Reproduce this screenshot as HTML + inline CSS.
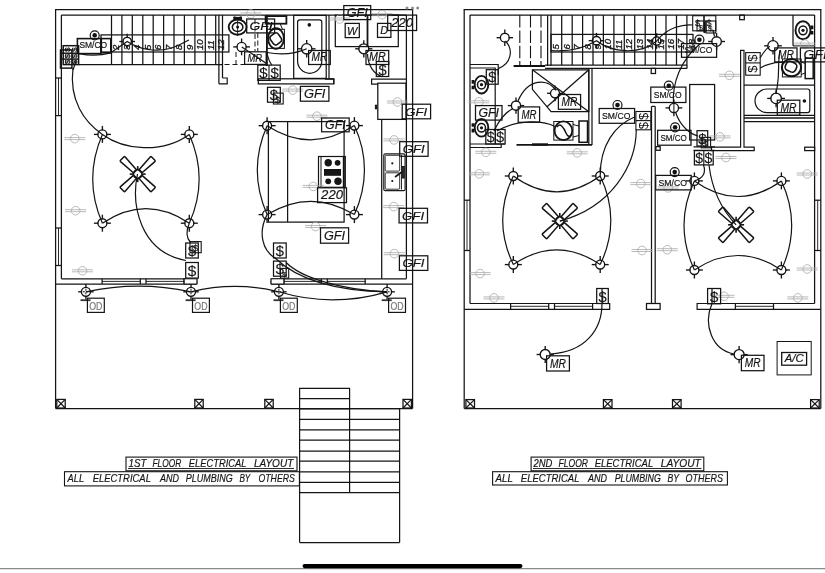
<!DOCTYPE html>
<html><head><meta charset="utf-8"><title>Electrical layout</title>
<style>
html,body{margin:0;padding:0;background:#fff;}
body{width:825px;height:573px;overflow:hidden;font-family:"Liberation Sans",sans-serif;}
svg{display:block;filter:blur(0.35px);}
svg text{font-family:"Liberation Sans",sans-serif;}
</style></head><body>
<svg width="825" height="573" viewBox="0 0 825 573" stroke-linecap="butt">
<rect x="0" y="0" width="825" height="573" fill="#fff"/>
<line x1="55.6" y1="9.5" x2="55.6" y2="408.6" stroke="#141414" stroke-width="1.25" />
<line x1="412.6" y1="9.5" x2="412.6" y2="408.6" stroke="#141414" stroke-width="1.25" />
<line x1="55.1" y1="9.5" x2="413.1" y2="9.5" stroke="#141414" stroke-width="1.25" />
<line x1="55.6" y1="408.6" x2="412.6" y2="408.6" stroke="#141414" stroke-width="1.25" />
<line x1="61.4" y1="15.1" x2="61.4" y2="278.8" stroke="#141414" stroke-width="1.25" />
<line x1="61.4" y1="15.1" x2="406.4" y2="15.1" stroke="#141414" stroke-width="1.25" />
<line x1="406.4" y1="15.1" x2="406.4" y2="278.8" stroke="#141414" stroke-width="1.25" />
<line x1="55.6" y1="284" x2="196.9" y2="284" stroke="#141414" stroke-width="1.25" />
<line x1="271.1" y1="284" x2="412.6" y2="284" stroke="#141414" stroke-width="1.25" />
<line x1="61.4" y1="278.8" x2="196.9" y2="278.8" stroke="#141414" stroke-width="1.25" />
<line x1="271.1" y1="278.8" x2="406.4" y2="278.8" stroke="#141414" stroke-width="1.25" />
<line x1="196.9" y1="278.8" x2="196.9" y2="284" stroke="#141414" stroke-width="1.25" />
<line x1="271.1" y1="278.8" x2="271.1" y2="284" stroke="#141414" stroke-width="1.25" />
<line x1="184.2" y1="278.8" x2="184.2" y2="284" stroke="#141414" stroke-width="1.25" />
<line x1="283.8" y1="278.8" x2="283.8" y2="284" stroke="#141414" stroke-width="1.25" />
<line x1="102.1" y1="278.8" x2="102.1" y2="284" stroke="#141414" stroke-width="1.25" />
<line x1="184.2" y1="278.8" x2="184.2" y2="284" stroke="#141414" stroke-width="1.25" />
<line x1="102.1" y1="281.4" x2="140.3" y2="281.4" stroke="#141414" stroke-width="0.9" />
<line x1="146" y1="281.4" x2="184.2" y2="281.4" stroke="#141414" stroke-width="0.9" />
<line x1="140.3" y1="278.8" x2="140.3" y2="284" stroke="#141414" stroke-width="1.25" />
<line x1="146" y1="278.8" x2="146" y2="284" stroke="#141414" stroke-width="1.25" />
<line x1="283.8" y1="278.8" x2="283.8" y2="284" stroke="#141414" stroke-width="1.25" />
<line x1="365.2" y1="278.8" x2="365.2" y2="284" stroke="#141414" stroke-width="1.25" />
<line x1="283.8" y1="281.4" x2="321.3" y2="281.4" stroke="#141414" stroke-width="0.9" />
<line x1="327.3" y1="281.4" x2="365.2" y2="281.4" stroke="#141414" stroke-width="0.9" />
<line x1="321.3" y1="278.8" x2="321.3" y2="284" stroke="#141414" stroke-width="1.25" />
<line x1="327.3" y1="278.8" x2="327.3" y2="284" stroke="#141414" stroke-width="1.25" />
<line x1="55.6" y1="78" x2="61.4" y2="78" stroke="#141414" stroke-width="1.25" />
<line x1="55.6" y1="115.6" x2="61.4" y2="115.6" stroke="#141414" stroke-width="1.25" />
<line x1="58.5" y1="78" x2="58.5" y2="115.6" stroke="#141414" stroke-width="0.9" />
<line x1="55.6" y1="228" x2="61.4" y2="228" stroke="#141414" stroke-width="1.25" />
<line x1="55.6" y1="265.5" x2="61.4" y2="265.5" stroke="#141414" stroke-width="1.25" />
<line x1="58.5" y1="228" x2="58.5" y2="265.5" stroke="#141414" stroke-width="0.9" />
<line x1="111.5" y1="15.1" x2="111.5" y2="64.5" stroke="#141414" stroke-width="1.25" />
<line x1="121.9" y1="15.1" x2="121.9" y2="64.5" stroke="#141414" stroke-width="1.25" />
<line x1="132.3" y1="15.1" x2="132.3" y2="64.5" stroke="#141414" stroke-width="1.25" />
<line x1="142.8" y1="15.1" x2="142.8" y2="64.5" stroke="#141414" stroke-width="1.25" />
<line x1="153.2" y1="15.1" x2="153.2" y2="64.5" stroke="#141414" stroke-width="1.25" />
<line x1="163.6" y1="15.1" x2="163.6" y2="64.5" stroke="#141414" stroke-width="1.25" />
<line x1="174.0" y1="15.1" x2="174.0" y2="64.5" stroke="#141414" stroke-width="1.25" />
<line x1="184.4" y1="15.1" x2="184.4" y2="64.5" stroke="#141414" stroke-width="1.25" />
<line x1="194.9" y1="15.1" x2="194.9" y2="64.5" stroke="#141414" stroke-width="1.25" />
<line x1="205.3" y1="15.1" x2="205.3" y2="64.5" stroke="#141414" stroke-width="1.25" />
<line x1="215.7" y1="15.1" x2="215.7" y2="64.5" stroke="#141414" stroke-width="1.25" />
<line x1="79" y1="64.5" x2="222.5" y2="64.5" stroke="#141414" stroke-width="1.25" />
<rect x="101" y="34.9" width="127.9" height="17.1" stroke="#141414" stroke-width="1.25" fill="none" />
<line x1="218.9" y1="15.1" x2="218.9" y2="83.8" stroke="#141414" stroke-width="1.25" />
<line x1="222.5" y1="15.1" x2="222.5" y2="78" stroke="#141414" stroke-width="1.25" />
<path d="M222.5 78 H227.2 V83.8 H218.9" stroke="#141414" stroke-width="1.2" fill="none" />
<line x1="224.5" y1="64.5" x2="258" y2="64.5" stroke="#141414" stroke-width="1" stroke-dasharray="5 3"/>
<line x1="236" y1="52" x2="236" y2="64.5" stroke="#141414" stroke-width="1" stroke-dasharray="5 3"/>
<text x="119.3" y="50" font-size="9.6" font-style="italic" fill="#141414" stroke="#141414" stroke-width="0.3" text-anchor="start" transform="rotate(-90 119.3 50)">2</text>
<text x="129.8" y="50" font-size="9.6" font-style="italic" fill="#141414" stroke="#141414" stroke-width="0.3" text-anchor="start" transform="rotate(-90 129.8 50)">3</text>
<text x="140.3" y="50" font-size="9.6" font-style="italic" fill="#141414" stroke="#141414" stroke-width="0.3" text-anchor="start" transform="rotate(-90 140.3 50)">4</text>
<text x="150.8" y="50" font-size="9.6" font-style="italic" fill="#141414" stroke="#141414" stroke-width="0.3" text-anchor="start" transform="rotate(-90 150.8 50)">5</text>
<text x="161.3" y="50" font-size="9.6" font-style="italic" fill="#141414" stroke="#141414" stroke-width="0.3" text-anchor="start" transform="rotate(-90 161.3 50)">6</text>
<text x="171.8" y="50" font-size="9.6" font-style="italic" fill="#141414" stroke="#141414" stroke-width="0.3" text-anchor="start" transform="rotate(-90 171.8 50)">7</text>
<text x="182.3" y="50" font-size="9.6" font-style="italic" fill="#141414" stroke="#141414" stroke-width="0.3" text-anchor="start" transform="rotate(-90 182.3 50)">8</text>
<text x="192.8" y="50" font-size="9.6" font-style="italic" fill="#141414" stroke="#141414" stroke-width="0.3" text-anchor="start" transform="rotate(-90 192.8 50)">9</text>
<text x="203.3" y="50" font-size="9.6" font-style="italic" fill="#141414" stroke="#141414" stroke-width="0.3" text-anchor="start" transform="rotate(-90 203.3 50)">10</text>
<text x="213.8" y="50" font-size="9.6" font-style="italic" fill="#141414" stroke="#141414" stroke-width="0.3" text-anchor="start" transform="rotate(-90 213.8 50)">11</text>
<text x="224.3" y="50" font-size="9.6" font-style="italic" fill="#141414" stroke="#141414" stroke-width="0.3" text-anchor="start" transform="rotate(-90 224.3 50)">12</text>
<rect x="56.8" y="399.4" width="8.4" height="8.6" stroke="#141414" stroke-width="1.25" fill="none" />
<line x1="56.8" y1="399.4" x2="65.2" y2="408" stroke="#141414" stroke-width="1.15" />
<line x1="56.8" y1="408" x2="65.2" y2="399.4" stroke="#141414" stroke-width="1.15" />
<rect x="194.8" y="399.4" width="8.4" height="8.6" stroke="#141414" stroke-width="1.25" fill="none" />
<line x1="194.8" y1="399.4" x2="203.20000000000002" y2="408" stroke="#141414" stroke-width="1.15" />
<line x1="194.8" y1="408" x2="203.20000000000002" y2="399.4" stroke="#141414" stroke-width="1.15" />
<rect x="264.8" y="399.4" width="8.4" height="8.6" stroke="#141414" stroke-width="1.25" fill="none" />
<line x1="264.8" y1="399.4" x2="273.2" y2="408" stroke="#141414" stroke-width="1.15" />
<line x1="264.8" y1="408" x2="273.2" y2="399.4" stroke="#141414" stroke-width="1.15" />
<rect x="403" y="399.4" width="8.4" height="8.6" stroke="#141414" stroke-width="1.25" fill="none" />
<line x1="403" y1="399.4" x2="411.4" y2="408" stroke="#141414" stroke-width="1.15" />
<line x1="403" y1="408" x2="411.4" y2="399.4" stroke="#141414" stroke-width="1.15" />
<path d="M299.6 542.5 V388.4 H349.6 V492.7" stroke="#141414" stroke-width="1.2" fill="none" />
<line x1="349.8" y1="408.6" x2="399.6" y2="408.6" stroke="#141414" stroke-width="1.25" />
<line x1="399.6" y1="408.6" x2="399.6" y2="542.5" stroke="#141414" stroke-width="1.25" />
<line x1="299.6" y1="542.5" x2="399.6" y2="542.5" stroke="#141414" stroke-width="1.25" />
<line x1="299.6" y1="398.7" x2="349.8" y2="398.7" stroke="#141414" stroke-width="1.25" />
<line x1="349.8" y1="419.4" x2="399.6" y2="419.4" stroke="#141414" stroke-width="1.25" />
<line x1="349.8" y1="429.8" x2="399.6" y2="429.8" stroke="#141414" stroke-width="1.25" />
<line x1="349.8" y1="440.2" x2="399.6" y2="440.2" stroke="#141414" stroke-width="1.25" />
<line x1="349.8" y1="451" x2="399.6" y2="451" stroke="#141414" stroke-width="1.25" />
<line x1="349.8" y1="461.2" x2="399.6" y2="461.2" stroke="#141414" stroke-width="1.25" />
<line x1="349.8" y1="471.9" x2="399.6" y2="471.9" stroke="#141414" stroke-width="1.25" />
<line x1="349.8" y1="482.3" x2="399.6" y2="482.3" stroke="#141414" stroke-width="1.25" />
<line x1="349.8" y1="492.7" x2="399.6" y2="492.7" stroke="#141414" stroke-width="1.25" />
<line x1="299.6" y1="408.8" x2="349.8" y2="408.8" stroke="#141414" stroke-width="1.25" />
<line x1="299.6" y1="419.4" x2="349.8" y2="419.4" stroke="#141414" stroke-width="1.25" />
<line x1="299.6" y1="429.8" x2="349.8" y2="429.8" stroke="#141414" stroke-width="1.25" />
<line x1="299.6" y1="440.2" x2="349.8" y2="440.2" stroke="#141414" stroke-width="1.25" />
<line x1="299.6" y1="451" x2="349.8" y2="451" stroke="#141414" stroke-width="1.25" />
<line x1="299.6" y1="461.2" x2="349.8" y2="461.2" stroke="#141414" stroke-width="1.25" />
<line x1="299.6" y1="471.9" x2="349.8" y2="471.9" stroke="#141414" stroke-width="1.25" />
<line x1="299.6" y1="482.3" x2="349.8" y2="482.3" stroke="#141414" stroke-width="1.25" />
<line x1="299.6" y1="492.7" x2="349.8" y2="492.7" stroke="#141414" stroke-width="1.25" />
<line x1="266.9" y1="15.1" x2="266.9" y2="66" stroke="#141414" stroke-width="1.8" />
<rect x="258.3" y="78.8" width="75.5" height="5.1" stroke="#141414" stroke-width="1.25" fill="none" />
<rect x="293.7" y="15.4" width="32.5" height="63.0" stroke="#141414" stroke-width="1.25" fill="none" />
<line x1="329" y1="15.1" x2="329" y2="78.8" stroke="#141414" stroke-width="1.25" />
<path d="M297.6 22 Q297.6 19.8 300 19.8 H319.4 Q321.8 19.8 321.8 22 V61 A12.1 12.3 0 0 1 297.6 61 Z" stroke="#141414" stroke-width="1.2" fill="none" />
<circle cx="309.3" cy="24.9" r="1.8" stroke="#141414" stroke-width="0" fill="#111"/>
<ellipse cx="237.6" cy="27.1" rx="8.9" ry="7.6" stroke="#141414" stroke-width="1.9" fill="none" />
<ellipse cx="237.6" cy="27.1" rx="5.3" ry="4.5" stroke="#141414" stroke-width="1.5" fill="none" />
<circle cx="237.6" cy="27.1" r="1.5" stroke="#141414" stroke-width="0" fill="#111"/>
<line x1="237.6" y1="19" x2="237.6" y2="36" stroke="#141414" stroke-width="0.9" />
<path d="M233.4 18.3 h8.6" stroke="#111" stroke-width="2.8" fill="none" />
<path d="M234.6 16.6 v2 M240.8 16.6 v2" stroke="#111" stroke-width="2" fill="none" />
<rect x="265.6" y="16.1" width="20.8" height="7.6" stroke="#141414" stroke-width="1.8" fill="none" />
<rect x="266.8" y="29.3" width="17.6" height="19.1" stroke="#141414" stroke-width="1" fill="none" />
<ellipse cx="276" cy="38.5" rx="7.9" ry="10.3" stroke="#141414" stroke-width="1.9" fill="none" />
<rect x="271" y="33.6" width="9.6" height="10.6" rx="3" stroke="#141414" stroke-width="1.5" fill="none" transform="rotate(-35 275.8 38.9)"/>
<path d="M272 23.4 L270 29.3 M280 23.4 L282.5 29.3" stroke="#141414" stroke-width="1" fill="none" />
<rect x="335.3" y="15.1" width="63.0" height="31.5" stroke="#141414" stroke-width="1.25" fill="none" />
<line x1="367.5" y1="15.1" x2="367.5" y2="46.6" stroke="#141414" stroke-width="1.8" />
<path d="M325 79.1 H333.8 V83.9" stroke="#141414" stroke-width="1.2" fill="none" />
<path d="M406.4 79.1 H371.6 V84.2 H377.8" stroke="#141414" stroke-width="1.2" fill="none" />
<rect x="377.8" y="83.2" width="28.2" height="36.2" stroke="#141414" stroke-width="1.25" fill="none" />
<rect x="375.4" y="105.2" width="1.2" height="3.6" stroke="#141414" stroke-width="1" fill="#111" />
<line x1="381.7" y1="119.4" x2="381.7" y2="278.8" stroke="#141414" stroke-width="1.25" />
<rect x="268.4" y="121.6" width="75.7" height="100.5" stroke="#141414" stroke-width="1.25" fill="none" />
<line x1="287.6" y1="121.6" x2="287.6" y2="222.1" stroke="#141414" stroke-width="1.25" />
<rect x="318.5" y="156.5" width="26.8" height="30.8" stroke="#141414" stroke-width="1.2" fill="none" />
<line x1="321" y1="157" x2="321" y2="187" stroke="#141414" stroke-width="1" />
<line x1="343.6" y1="157" x2="343.6" y2="187" stroke="#141414" stroke-width="1.6" />
<circle cx="328.2" cy="162.8" r="3.7" stroke="#141414" stroke-width="0" fill="#151515"/>
<circle cx="337.6" cy="162.8" r="2.9" stroke="#141414" stroke-width="0" fill="#151515"/>
<circle cx="328.2" cy="181.3" r="2.9" stroke="#141414" stroke-width="0" fill="#151515"/>
<circle cx="338" cy="181.3" r="3.7" stroke="#141414" stroke-width="0" fill="#151515"/>
<rect x="324" y="169" width="17" height="6.8" stroke="#141414" stroke-width="0" fill="#151515" />
<rect x="383.8" y="153.9" width="21.3" height="36.8" rx="1.5" stroke="#1c1c1c" stroke-width="1.2" fill="#fff"/>
<rect x="385.2" y="155.3" width="14.5" height="15.8" rx="1" stroke="#1c1c1c" stroke-width="0.9" fill="none"/>
<rect x="385.2" y="172.8" width="14.5" height="16.4" rx="1" stroke="#1c1c1c" stroke-width="0.9" fill="none"/>
<circle cx="392.3" cy="163.3" r="1.1" stroke="#141414" stroke-width="0" fill="#111"/>
<circle cx="392.3" cy="181" r="1.1" stroke="#141414" stroke-width="0" fill="#111"/>
<line x1="401.5" y1="155" x2="401.5" y2="189.5" stroke="#141414" stroke-width="0.9" />
<rect x="402.3" y="166.5" width="2.0" height="11.5" stroke="#141414" stroke-width="1" fill="#333" />
<line x1="395" y1="177" x2="402.5" y2="171.5" stroke="#141414" stroke-width="1.6" />
<circle cx="82.5" cy="270.8" r="4.3" stroke="#a8a8a8" stroke-width="0.8" fill="none"/>
<line x1="72.0" y1="269.8" x2="93.0" y2="269.8" stroke="#a8a8a8" stroke-width="0.8" />
<line x1="72.0" y1="271.8" x2="93.0" y2="271.8" stroke="#a8a8a8" stroke-width="0.8" />
<circle cx="74.8" cy="138.6" r="4.3" stroke="#a8a8a8" stroke-width="0.8" fill="none"/>
<line x1="64.3" y1="137.6" x2="85.3" y2="137.6" stroke="#a8a8a8" stroke-width="0.8" />
<line x1="64.3" y1="139.6" x2="85.3" y2="139.6" stroke="#a8a8a8" stroke-width="0.8" />
<circle cx="75.6" cy="210.7" r="4.3" stroke="#a8a8a8" stroke-width="0.8" fill="none"/>
<line x1="65.1" y1="209.7" x2="86.1" y2="209.7" stroke="#a8a8a8" stroke-width="0.8" />
<line x1="65.1" y1="211.7" x2="86.1" y2="211.7" stroke="#a8a8a8" stroke-width="0.8" />
<circle cx="250.8" cy="13.9" r="4.3" stroke="#a8a8a8" stroke-width="0.8" fill="none"/>
<line x1="240.3" y1="12.9" x2="261.3" y2="12.9" stroke="#a8a8a8" stroke-width="0.8" />
<line x1="240.3" y1="14.9" x2="261.3" y2="14.9" stroke="#a8a8a8" stroke-width="0.8" />
<circle cx="339.7" cy="19" r="4.3" stroke="#a8a8a8" stroke-width="0.8" fill="none"/>
<line x1="329.2" y1="18" x2="350.2" y2="18" stroke="#a8a8a8" stroke-width="0.8" />
<line x1="329.2" y1="20" x2="350.2" y2="20" stroke="#a8a8a8" stroke-width="0.8" />
<circle cx="382.1" cy="14.7" r="4.3" stroke="#a8a8a8" stroke-width="0.8" fill="none"/>
<line x1="371.6" y1="13.7" x2="392.6" y2="13.7" stroke="#a8a8a8" stroke-width="0.8" />
<line x1="371.6" y1="15.7" x2="392.6" y2="15.7" stroke="#a8a8a8" stroke-width="0.8" />
<circle cx="292.7" cy="90.1" r="4.3" stroke="#a8a8a8" stroke-width="0.8" fill="none"/>
<line x1="282.2" y1="89.1" x2="303.2" y2="89.1" stroke="#a8a8a8" stroke-width="0.8" />
<line x1="282.2" y1="91.1" x2="303.2" y2="91.1" stroke="#a8a8a8" stroke-width="0.8" />
<circle cx="316.9" cy="116.2" r="4.3" stroke="#a8a8a8" stroke-width="0.8" fill="none"/>
<line x1="306.4" y1="115.2" x2="327.4" y2="115.2" stroke="#a8a8a8" stroke-width="0.8" />
<line x1="306.4" y1="117.2" x2="327.4" y2="117.2" stroke="#a8a8a8" stroke-width="0.8" />
<circle cx="313.3" cy="186.4" r="4.3" stroke="#a8a8a8" stroke-width="0.8" fill="none"/>
<line x1="302.8" y1="185.4" x2="323.8" y2="185.4" stroke="#a8a8a8" stroke-width="0.8" />
<line x1="302.8" y1="187.4" x2="323.8" y2="187.4" stroke="#a8a8a8" stroke-width="0.8" />
<circle cx="315.6" cy="226.5" r="4.3" stroke="#a8a8a8" stroke-width="0.8" fill="none"/>
<line x1="305.1" y1="225.5" x2="326.1" y2="225.5" stroke="#a8a8a8" stroke-width="0.8" />
<line x1="305.1" y1="227.5" x2="326.1" y2="227.5" stroke="#a8a8a8" stroke-width="0.8" />
<circle cx="397.4" cy="102" r="4.3" stroke="#a8a8a8" stroke-width="0.8" fill="none"/>
<line x1="386.9" y1="101" x2="407.9" y2="101" stroke="#a8a8a8" stroke-width="0.8" />
<line x1="386.9" y1="103" x2="407.9" y2="103" stroke="#a8a8a8" stroke-width="0.8" />
<circle cx="394" cy="139.9" r="4.3" stroke="#a8a8a8" stroke-width="0.8" fill="none"/>
<line x1="383.5" y1="138.9" x2="404.5" y2="138.9" stroke="#a8a8a8" stroke-width="0.8" />
<line x1="383.5" y1="140.9" x2="404.5" y2="140.9" stroke="#a8a8a8" stroke-width="0.8" />
<circle cx="393.7" cy="206.6" r="4.3" stroke="#a8a8a8" stroke-width="0.8" fill="none"/>
<line x1="383.2" y1="205.6" x2="404.2" y2="205.6" stroke="#a8a8a8" stroke-width="0.8" />
<line x1="383.2" y1="207.6" x2="404.2" y2="207.6" stroke="#a8a8a8" stroke-width="0.8" />
<circle cx="394.3" cy="253.7" r="4.3" stroke="#a8a8a8" stroke-width="0.8" fill="none"/>
<line x1="383.8" y1="252.7" x2="404.8" y2="252.7" stroke="#a8a8a8" stroke-width="0.8" />
<line x1="383.8" y1="254.7" x2="404.8" y2="254.7" stroke="#a8a8a8" stroke-width="0.8" />
<path d="M73 68 C69 100 84 122 102.4 134.4 C124 150 162 154 189.3 134.4" stroke="#141414" stroke-width="1.2" fill="none" />
<path d="M102.4 134.4 Q83 179 102.4 223.2" stroke="#141414" stroke-width="1.2" fill="none" />
<path d="M189.3 134.4 Q209 179 189.3 223.2" stroke="#141414" stroke-width="1.2" fill="none" />
<path d="M102.4 223.2 Q146 194 189.3 223.2" stroke="#141414" stroke-width="1.2" fill="none" />
<path d="M137.5 174 C131 205 140 252 186 260.5" stroke="#141414" stroke-width="1.2" fill="none" />
<path d="M189.3 223.2 C185.5 232 186.5 238 190.5 242.5" stroke="#141414" stroke-width="1.2" fill="none" />
<path d="M267.1 125.7 Q310.7 154 354.4 125.6" stroke="#141414" stroke-width="1.2" fill="none" />
<path d="M267.1 125.7 Q247.5 170 267.1 214.6" stroke="#141414" stroke-width="1.2" fill="none" />
<path d="M354.4 125.6 Q374.5 170 354.4 214.6" stroke="#141414" stroke-width="1.2" fill="none" />
<path d="M267.1 214.6 Q310.7 188 354.4 214.6" stroke="#141414" stroke-width="1.2" fill="none" />
<path d="M267.1 214.6 C258 232 262 250 275 258 C300 282 340 291 387.1 291.8" stroke="#141414" stroke-width="1.2" fill="none" />
<path d="M286.2 262.5 C300 277 340 290 387.1 291.8" stroke="#141414" stroke-width="1.2" fill="none" />
<path d="M85.9 291.8 Q138.5 280.5 191 291.8" stroke="#141414" stroke-width="1.2" fill="none" />
<path d="M191 291.8 Q235 281 278.9 291.8" stroke="#141414" stroke-width="1.2" fill="none" />
<path d="M278.9 291.8 Q332 308 387.1 291.8" stroke="#141414" stroke-width="1.2" fill="none" />
<path d="M79.3 53.6 C90 56 103 55 110.8 52.8 L127.2 41.5 C140 50 156 52 170 48.5 C178 46 184 42.5 189 40" stroke="#141414" stroke-width="1.2" fill="none" />
<circle cx="102.4" cy="134.4" r="4.5" stroke="#141414" stroke-width="1.35" fill="none"/>
<line x1="93.9" y1="134.4" x2="98.4" y2="134.4" stroke="#141414" stroke-width="1.35" />
<line x1="106.4" y1="134.4" x2="110.9" y2="134.4" stroke="#141414" stroke-width="1.35" />
<line x1="102.4" y1="125.9" x2="102.4" y2="130.4" stroke="#141414" stroke-width="1.35" />
<line x1="102.4" y1="138.4" x2="102.4" y2="142.9" stroke="#141414" stroke-width="1.35" />
<circle cx="189.3" cy="134.4" r="4.5" stroke="#141414" stroke-width="1.35" fill="none"/>
<line x1="180.8" y1="134.4" x2="185.3" y2="134.4" stroke="#141414" stroke-width="1.35" />
<line x1="193.3" y1="134.4" x2="197.8" y2="134.4" stroke="#141414" stroke-width="1.35" />
<line x1="189.3" y1="125.9" x2="189.3" y2="130.4" stroke="#141414" stroke-width="1.35" />
<line x1="189.3" y1="138.4" x2="189.3" y2="142.9" stroke="#141414" stroke-width="1.35" />
<circle cx="102.4" cy="223.2" r="4.5" stroke="#141414" stroke-width="1.35" fill="none"/>
<line x1="93.9" y1="223.2" x2="98.4" y2="223.2" stroke="#141414" stroke-width="1.35" />
<line x1="106.4" y1="223.2" x2="110.9" y2="223.2" stroke="#141414" stroke-width="1.35" />
<line x1="102.4" y1="214.7" x2="102.4" y2="219.2" stroke="#141414" stroke-width="1.35" />
<line x1="102.4" y1="227.2" x2="102.4" y2="231.7" stroke="#141414" stroke-width="1.35" />
<circle cx="189.3" cy="223.2" r="4.5" stroke="#141414" stroke-width="1.35" fill="none"/>
<line x1="180.8" y1="223.2" x2="185.3" y2="223.2" stroke="#141414" stroke-width="1.35" />
<line x1="193.3" y1="223.2" x2="197.8" y2="223.2" stroke="#141414" stroke-width="1.35" />
<line x1="189.3" y1="214.7" x2="189.3" y2="219.2" stroke="#141414" stroke-width="1.35" />
<line x1="189.3" y1="227.2" x2="189.3" y2="231.7" stroke="#141414" stroke-width="1.35" />
<circle cx="267.1" cy="125.7" r="4.5" stroke="#141414" stroke-width="1.35" fill="none"/>
<line x1="258.6" y1="125.7" x2="263.1" y2="125.7" stroke="#141414" stroke-width="1.35" />
<line x1="271.1" y1="125.7" x2="275.6" y2="125.7" stroke="#141414" stroke-width="1.35" />
<line x1="267.1" y1="117.2" x2="267.1" y2="121.7" stroke="#141414" stroke-width="1.35" />
<line x1="267.1" y1="129.7" x2="267.1" y2="134.2" stroke="#141414" stroke-width="1.35" />
<circle cx="354.4" cy="125.6" r="4.5" stroke="#141414" stroke-width="1.35" fill="none"/>
<line x1="345.9" y1="125.6" x2="350.4" y2="125.6" stroke="#141414" stroke-width="1.35" />
<line x1="358.4" y1="125.6" x2="362.9" y2="125.6" stroke="#141414" stroke-width="1.35" />
<line x1="354.4" y1="117.1" x2="354.4" y2="121.6" stroke="#141414" stroke-width="1.35" />
<line x1="354.4" y1="129.6" x2="354.4" y2="134.1" stroke="#141414" stroke-width="1.35" />
<circle cx="267.1" cy="214.6" r="4.5" stroke="#141414" stroke-width="1.35" fill="none"/>
<line x1="258.6" y1="214.6" x2="263.1" y2="214.6" stroke="#141414" stroke-width="1.35" />
<line x1="271.1" y1="214.6" x2="275.6" y2="214.6" stroke="#141414" stroke-width="1.35" />
<line x1="267.1" y1="206.1" x2="267.1" y2="210.6" stroke="#141414" stroke-width="1.35" />
<line x1="267.1" y1="218.6" x2="267.1" y2="223.1" stroke="#141414" stroke-width="1.35" />
<circle cx="354.4" cy="214.6" r="4.5" stroke="#141414" stroke-width="1.35" fill="none"/>
<line x1="345.9" y1="214.6" x2="350.4" y2="214.6" stroke="#141414" stroke-width="1.35" />
<line x1="358.4" y1="214.6" x2="362.9" y2="214.6" stroke="#141414" stroke-width="1.35" />
<line x1="354.4" y1="206.1" x2="354.4" y2="210.6" stroke="#141414" stroke-width="1.35" />
<line x1="354.4" y1="218.6" x2="354.4" y2="223.1" stroke="#141414" stroke-width="1.35" />
<circle cx="127.2" cy="41.5" r="4.2" stroke="#141414" stroke-width="1.35" fill="none"/>
<line x1="119.4" y1="41.5" x2="123.5" y2="41.5" stroke="#141414" stroke-width="1.35" />
<line x1="130.9" y1="41.5" x2="135.0" y2="41.5" stroke="#141414" stroke-width="1.35" />
<line x1="127.2" y1="33.699999999999996" x2="127.2" y2="37.8" stroke="#141414" stroke-width="1.35" />
<line x1="127.2" y1="45.2" x2="127.2" y2="49.300000000000004" stroke="#141414" stroke-width="1.35" />
<circle cx="241.6" cy="46.9" r="4.6" stroke="#141414" stroke-width="1.35" fill="none"/>
<line x1="233.2" y1="46.9" x2="237.5" y2="46.9" stroke="#141414" stroke-width="1.35" />
<line x1="245.7" y1="46.9" x2="250.0" y2="46.9" stroke="#141414" stroke-width="1.35" />
<line x1="241.6" y1="38.5" x2="241.6" y2="42.8" stroke="#141414" stroke-width="1.35" />
<line x1="241.6" y1="51.0" x2="241.6" y2="55.3" stroke="#141414" stroke-width="1.35" />
<circle cx="306.7" cy="48.8" r="5.2" stroke="#141414" stroke-width="1.35" fill="none"/>
<line x1="297.9" y1="48.8" x2="302.0" y2="48.8" stroke="#141414" stroke-width="1.35" />
<line x1="311.4" y1="48.8" x2="315.5" y2="48.8" stroke="#141414" stroke-width="1.35" />
<line x1="306.7" y1="39.99999999999999" x2="306.7" y2="44.099999999999994" stroke="#141414" stroke-width="1.35" />
<line x1="306.7" y1="53.5" x2="306.7" y2="57.6" stroke="#141414" stroke-width="1.35" />
<circle cx="363.8" cy="48.8" r="5" stroke="#141414" stroke-width="1.35" fill="none"/>
<line x1="355.2" y1="48.8" x2="359.3" y2="48.8" stroke="#141414" stroke-width="1.35" />
<line x1="368.3" y1="48.8" x2="372.40000000000003" y2="48.8" stroke="#141414" stroke-width="1.35" />
<line x1="363.8" y1="40.199999999999996" x2="363.8" y2="44.3" stroke="#141414" stroke-width="1.35" />
<line x1="363.8" y1="53.3" x2="363.8" y2="57.4" stroke="#141414" stroke-width="1.35" />
<path d="M141.29999999999998 172.0 L158.7 170.79999999999998 Q159.7 170.79999999999998 159.7 171.79999999999998 L159.7 176.4 Q159.7 177.4 158.7 177.4 L141.29999999999998 176.2 Z" stroke="#141414" stroke-width="1.5" fill="none" stroke-linejoin="round" transform="rotate(45 137.7 174.1)"/>
<path d="M141.29999999999998 172.0 L158.7 170.79999999999998 Q159.7 170.79999999999998 159.7 171.79999999999998 L159.7 176.4 Q159.7 177.4 158.7 177.4 L141.29999999999998 176.2 Z" stroke="#141414" stroke-width="1.5" fill="none" stroke-linejoin="round" transform="rotate(135 137.7 174.1)"/>
<path d="M141.29999999999998 172.0 L158.7 170.79999999999998 Q159.7 170.79999999999998 159.7 171.79999999999998 L159.7 176.4 Q159.7 177.4 158.7 177.4 L141.29999999999998 176.2 Z" stroke="#141414" stroke-width="1.5" fill="none" stroke-linejoin="round" transform="rotate(225 137.7 174.1)"/>
<path d="M141.29999999999998 172.0 L158.7 170.79999999999998 Q159.7 170.79999999999998 159.7 171.79999999999998 L159.7 176.4 Q159.7 177.4 158.7 177.4 L141.29999999999998 176.2 Z" stroke="#141414" stroke-width="1.5" fill="none" stroke-linejoin="round" transform="rotate(315 137.7 174.1)"/>
<circle cx="137.7" cy="174.1" r="4.3" stroke="#141414" stroke-width="1.5" fill="none"/>
<line x1="142.2" y1="174.1" x2="145.7" y2="174.1" stroke="#141414" stroke-width="1.6" />
<line x1="133.2" y1="174.1" x2="129.7" y2="174.1" stroke="#141414" stroke-width="1.6" />
<line x1="137.7" y1="178.6" x2="137.7" y2="182.1" stroke="#141414" stroke-width="1.6" />
<line x1="137.7" y1="169.6" x2="137.7" y2="166.1" stroke="#141414" stroke-width="1.6" />
<circle cx="85.9" cy="291.8" r="4.5" stroke="#141414" stroke-width="1.35" fill="none"/>
<line x1="78.2" y1="291.8" x2="81.9" y2="291.8" stroke="#141414" stroke-width="1.35" />
<line x1="89.9" y1="291.8" x2="93.60000000000001" y2="291.8" stroke="#141414" stroke-width="1.35" />
<line x1="85.9" y1="284.1" x2="85.9" y2="287.8" stroke="#141414" stroke-width="1.35" />
<line x1="85.9" y1="295.8" x2="85.9" y2="299.5" stroke="#141414" stroke-width="1.35" />
<line x1="82.9" y1="291.8" x2="88.9" y2="291.8" stroke="#141414" stroke-width="1" stroke-dasharray="2 1.5"/>
<line x1="85.9" y1="288.8" x2="85.9" y2="294.8" stroke="#141414" stroke-width="1" stroke-dasharray="2 1.5"/>
<line x1="80.5" y1="300.2" x2="90.5" y2="300.2" stroke="#333" stroke-width="1.8" />
<rect x="87.4" y="298.2" width="16.9" height="14.2" stroke="#141414" stroke-width="1.2" fill="none" />
<text x="89.2" y="310" font-size="11.5" font-style="normal" font-weight="normal" text-anchor="start" fill="#777" stroke="#777" stroke-width="0.18" textLength="13.2" lengthAdjust="spacingAndGlyphs" >OD</text>
<circle cx="191" cy="291.8" r="4.5" stroke="#141414" stroke-width="1.35" fill="none"/>
<line x1="183.3" y1="291.8" x2="187.0" y2="291.8" stroke="#141414" stroke-width="1.35" />
<line x1="195.0" y1="291.8" x2="198.7" y2="291.8" stroke="#141414" stroke-width="1.35" />
<line x1="191" y1="284.1" x2="191" y2="287.8" stroke="#141414" stroke-width="1.35" />
<line x1="191" y1="295.8" x2="191" y2="299.5" stroke="#141414" stroke-width="1.35" />
<line x1="188" y1="291.8" x2="194" y2="291.8" stroke="#141414" stroke-width="1" stroke-dasharray="2 1.5"/>
<line x1="191" y1="288.8" x2="191" y2="294.8" stroke="#141414" stroke-width="1" stroke-dasharray="2 1.5"/>
<line x1="185.6" y1="300.2" x2="195.6" y2="300.2" stroke="#333" stroke-width="1.8" />
<rect x="192.5" y="298.2" width="16.9" height="14.2" stroke="#141414" stroke-width="1.2" fill="none" />
<text x="194.3" y="310" font-size="11.5" font-style="normal" font-weight="normal" text-anchor="start" fill="#777" stroke="#777" stroke-width="0.18" textLength="13.2" lengthAdjust="spacingAndGlyphs" >OD</text>
<circle cx="278.9" cy="291.8" r="4.5" stroke="#141414" stroke-width="1.35" fill="none"/>
<line x1="271.2" y1="291.8" x2="274.9" y2="291.8" stroke="#141414" stroke-width="1.35" />
<line x1="282.9" y1="291.8" x2="286.59999999999997" y2="291.8" stroke="#141414" stroke-width="1.35" />
<line x1="278.9" y1="284.1" x2="278.9" y2="287.8" stroke="#141414" stroke-width="1.35" />
<line x1="278.9" y1="295.8" x2="278.9" y2="299.5" stroke="#141414" stroke-width="1.35" />
<line x1="275.9" y1="291.8" x2="281.9" y2="291.8" stroke="#141414" stroke-width="1" stroke-dasharray="2 1.5"/>
<line x1="278.9" y1="288.8" x2="278.9" y2="294.8" stroke="#141414" stroke-width="1" stroke-dasharray="2 1.5"/>
<line x1="273.5" y1="300.2" x2="283.5" y2="300.2" stroke="#333" stroke-width="1.8" />
<rect x="280.4" y="298.2" width="16.9" height="14.2" stroke="#141414" stroke-width="1.2" fill="none" />
<text x="282.2" y="310" font-size="11.5" font-style="normal" font-weight="normal" text-anchor="start" fill="#777" stroke="#777" stroke-width="0.18" textLength="13.2" lengthAdjust="spacingAndGlyphs" >OD</text>
<circle cx="387.1" cy="291.8" r="4.5" stroke="#141414" stroke-width="1.35" fill="none"/>
<line x1="379.40000000000003" y1="291.8" x2="383.1" y2="291.8" stroke="#141414" stroke-width="1.35" />
<line x1="391.1" y1="291.8" x2="394.8" y2="291.8" stroke="#141414" stroke-width="1.35" />
<line x1="387.1" y1="284.1" x2="387.1" y2="287.8" stroke="#141414" stroke-width="1.35" />
<line x1="387.1" y1="295.8" x2="387.1" y2="299.5" stroke="#141414" stroke-width="1.35" />
<line x1="384.1" y1="291.8" x2="390.1" y2="291.8" stroke="#141414" stroke-width="1" stroke-dasharray="2 1.5"/>
<line x1="387.1" y1="288.8" x2="387.1" y2="294.8" stroke="#141414" stroke-width="1" stroke-dasharray="2 1.5"/>
<line x1="381.70000000000005" y1="300.2" x2="391.70000000000005" y2="300.2" stroke="#333" stroke-width="1.8" />
<rect x="388.6" y="298.2" width="16.9" height="14.2" stroke="#141414" stroke-width="1.2" fill="none" />
<text x="390.40000000000003" y="310" font-size="11.5" font-style="normal" font-weight="normal" text-anchor="start" fill="#777" stroke="#777" stroke-width="0.18" textLength="13.2" lengthAdjust="spacingAndGlyphs" >OD</text>
<path d="M266.9 52.5 C280 55 295 54 306.7 48.8 M266.9 52.5 C268 58 269.5 62 271.8 65" stroke="#141414" stroke-width="1.2" fill="none" />
<circle cx="94.7" cy="35.3" r="4.5" stroke="#141414" stroke-width="1.2" fill="none"/>
<circle cx="94.7" cy="35.3" r="2.3" stroke="#141414" stroke-width="0" fill="#111"/>
<rect x="77.4" y="38.6" width="23.6" height="15.0" stroke="#141414" stroke-width="1.6" fill="none" />
<text x="79.4" y="47.8" font-size="8.3" font-style="normal" font-weight="normal" text-anchor="start" fill="#141414" stroke="#141414" stroke-width="0.18" textLength="27.8" lengthAdjust="spacingAndGlyphs" >SM/CO</text>
<rect x="101.3" y="38.6" width="9.5" height="14.2" stroke="#141414" stroke-width="1.6" fill="none" />
<rect x="63.2" y="45.7" width="15.4" height="18.9" stroke="#141414" stroke-width="1.5" fill="none" />
<rect x="60.5" y="50" width="11.4" height="18.1" stroke="#141414" stroke-width="1.5" fill="none" />
<line x1="60.5" y1="53.2" x2="78.6" y2="53.2" stroke="#141414" stroke-width="1.5" />
<line x1="60.5" y1="59.1" x2="78.6" y2="59.1" stroke="#141414" stroke-width="1.5" />
<text x="67.6" y="49.6" font-size="7.5" fill="#141414" stroke="#141414" stroke-width="0.4" text-anchor="middle" transform="rotate(-90 67.6 49.6) translate(0 2.6)">$</text>
<text x="74.6" y="49.6" font-size="7.5" fill="#141414" stroke="#141414" stroke-width="0.4" text-anchor="middle" transform="rotate(-90 74.6 49.6) translate(0 2.6)">$</text>
<text x="67.6" y="56.2" font-size="7.5" fill="#141414" stroke="#141414" stroke-width="0.4" text-anchor="middle" transform="rotate(-90 67.6 56.2) translate(0 2.6)">$</text>
<text x="74.6" y="56.2" font-size="7.5" fill="#141414" stroke="#141414" stroke-width="0.4" text-anchor="middle" transform="rotate(-90 74.6 56.2) translate(0 2.6)">$</text>
<text x="67.6" y="62" font-size="7.5" fill="#141414" stroke="#141414" stroke-width="0.4" text-anchor="middle" transform="rotate(-90 67.6 62) translate(0 2.6)">$</text>
<text x="74.6" y="62" font-size="7.5" fill="#141414" stroke="#141414" stroke-width="0.4" text-anchor="middle" transform="rotate(-90 74.6 62) translate(0 2.6)">$</text>
<path d="M76 61 L73 70" stroke="#141414" stroke-width="1.2" fill="none" />
<rect x="246.7" y="19" width="27.9" height="13.9" stroke="#141414" stroke-width="1.25" fill="none" />
<text x="249.5" y="29.8" font-size="11.5" font-style="italic" font-weight="normal" text-anchor="start" fill="#141414" stroke="#141414" stroke-width="0.18" textLength="23.0" lengthAdjust="spacingAndGlyphs" >GFI</text>
<line x1="255" y1="19" x2="255" y2="51" stroke="#141414" stroke-width="1" stroke-dasharray="5 2.5"/>
<line x1="257.8" y1="33" x2="257.8" y2="51" stroke="#141414" stroke-width="1" stroke-dasharray="5 2.5"/>
<rect x="244.6" y="51.8" width="21.6" height="12.6" stroke="#141414" stroke-width="1.25" fill="none" />
<text x="247.4" y="61.6" font-size="11.5" font-style="italic" font-weight="normal" text-anchor="start" fill="#141414" stroke="#141414" stroke-width="0.18" textLength="14.6" lengthAdjust="spacingAndGlyphs" >MR</text>
<path d="M241.8 46.9 L266.9 63.7" stroke="#141414" stroke-width="1.2" fill="none" />
<rect x="257.8" y="65.1" width="22.4" height="15.3" stroke="#141414" stroke-width="1.25" fill="none" />
<text x="263.4" y="78.4" font-size="15.0" font-style="normal" font-weight="normal" text-anchor="middle" fill="#141414" stroke="#141414" stroke-width="0.15" >$</text>
<line x1="269.0" y1="65.1" x2="269.0" y2="80.4" stroke="#141414" stroke-width="1.1" />
<text x="274.6" y="78.4" font-size="15.0" font-style="normal" font-weight="normal" text-anchor="middle" fill="#141414" stroke="#141414" stroke-width="0.15" >$</text>
<rect x="308.6" y="50.5" width="21.7" height="14.0" stroke="#141414" stroke-width="1.25" fill="none" />
<text x="311.6" y="61.4" font-size="12" font-style="italic" font-weight="normal" text-anchor="start" fill="#141414" stroke="#141414" stroke-width="0.18" textLength="15.7" lengthAdjust="spacingAndGlyphs" >MR</text>
<rect x="343.8" y="5.6" width="26.9" height="14.0" stroke="#141414" stroke-width="1.25" fill="none" />
<text x="346.8" y="16.5" font-size="12" font-style="italic" font-weight="normal" text-anchor="start" fill="#141414" stroke="#141414" stroke-width="0.18" textLength="20.9" lengthAdjust="spacingAndGlyphs" >GFI</text>
<rect x="345.2" y="23.4" width="14.1" height="14.2" stroke="#141414" stroke-width="1.25" fill="none" />
<text x="347.1" y="34.5" font-size="11" font-style="italic" font-weight="normal" text-anchor="start" fill="#141414" stroke="#141414" stroke-width="0.18" textLength="10.3" lengthAdjust="spacingAndGlyphs" >W</text>
<rect x="377.5" y="23.4" width="13.4" height="14.0" stroke="#141414" stroke-width="1.25" fill="none" />
<text x="380.3" y="34.3" font-size="11" font-style="italic" font-weight="normal" text-anchor="start" fill="#141414" stroke="#141414" stroke-width="0.18" textLength="7.8" lengthAdjust="spacingAndGlyphs" >D</text>
<rect x="387.7" y="15.1" width="28.9" height="15.4" stroke="#141414" stroke-width="1.25" fill="none" />
<text x="391.2" y="27.1" font-size="12.5" font-style="italic" font-weight="normal" text-anchor="start" fill="#141414" stroke="#141414" stroke-width="0.18" textLength="21.9" lengthAdjust="spacingAndGlyphs" >220</text>
<rect x="366" y="50.5" width="22.7" height="14.0" stroke="#141414" stroke-width="1.25" fill="none" />
<text x="369" y="61.4" font-size="12" font-style="italic" font-weight="normal" text-anchor="start" fill="#141414" stroke="#141414" stroke-width="0.18" textLength="16.7" lengthAdjust="spacingAndGlyphs" >MR</text>
<rect x="376.3" y="61.5" width="12.4" height="15.0" stroke="#141414" stroke-width="1.25" fill="none" />
<text x="382.5" y="74.5" font-size="14.7" font-style="normal" font-weight="normal" text-anchor="middle" fill="#141414" stroke="#141414" stroke-width="0.15" >$</text>
<path d="M367.5 54 C368 66 374 74 382 76.5" stroke="#141414" stroke-width="1.2" fill="none" />
<rect x="267.5" y="87.3" width="12.8" height="14.9" stroke="#141414" stroke-width="1.25" fill="none" />
<text x="273.9" y="100.3" font-size="14.6" font-style="normal" font-weight="normal" text-anchor="middle" fill="#141414" stroke="#141414" stroke-width="0.15" >$</text>
<rect x="273.4" y="93.1" width="9.8" height="10.9" stroke="#141414" stroke-width="1.1" fill="none" />
<text x="275.3" y="102.5" font-size="9" font-style="normal" font-weight="normal" text-anchor="start" fill="#141414" stroke="#141414" stroke-width="0.18" >$</text>
<rect x="300.4" y="86.4" width="28.5" height="14.8" stroke="#141414" stroke-width="1.25" fill="none" />
<text x="303.9" y="97.9" font-size="12.5" font-style="italic" font-weight="normal" text-anchor="start" fill="#141414" stroke="#141414" stroke-width="0.18" textLength="21.5" lengthAdjust="spacingAndGlyphs" >GFI</text>
<rect x="321.6" y="118" width="27.6" height="13.8" stroke="#141414" stroke-width="1.25" fill="none" />
<text x="325.1" y="128.8" font-size="12" font-style="italic" font-weight="normal" text-anchor="start" fill="#141414" stroke="#141414" stroke-width="0.18" textLength="20.6" lengthAdjust="spacingAndGlyphs" >GFI</text>
<rect x="317.6" y="187.8" width="28.9" height="14.8" stroke="#141414" stroke-width="1.25" fill="none" />
<text x="321.1" y="199.3" font-size="12.5" font-style="italic" font-weight="normal" text-anchor="start" fill="#141414" stroke="#141414" stroke-width="0.18" textLength="21.9" lengthAdjust="spacingAndGlyphs" >220</text>
<rect x="320.5" y="227.8" width="28.1" height="15.4" stroke="#141414" stroke-width="1.25" fill="none" />
<text x="324.0" y="239.8" font-size="12.5" font-style="italic" font-weight="normal" text-anchor="start" fill="#141414" stroke="#141414" stroke-width="0.18" textLength="21.1" lengthAdjust="spacingAndGlyphs" >GFI</text>
<rect x="402.2" y="104.2" width="28.4" height="14.6" stroke="#141414" stroke-width="1.25" fill="none" />
<text x="405.2" y="115.7" font-size="11.8" font-style="italic" font-weight="normal" text-anchor="start" fill="#141414" stroke="#141414" stroke-width="0.18" textLength="22.0" lengthAdjust="spacingAndGlyphs" >GFI</text>
<rect x="399.7" y="141.7" width="28.4" height="14.6" stroke="#141414" stroke-width="1.25" fill="none" />
<text x="402.7" y="153.2" font-size="11.8" font-style="italic" font-weight="normal" text-anchor="start" fill="#141414" stroke="#141414" stroke-width="0.18" textLength="22.0" lengthAdjust="spacingAndGlyphs" >GFI</text>
<rect x="399.1" y="208.3" width="28.4" height="14.6" stroke="#141414" stroke-width="1.25" fill="none" />
<text x="402.1" y="219.8" font-size="11.8" font-style="italic" font-weight="normal" text-anchor="start" fill="#141414" stroke="#141414" stroke-width="0.18" textLength="22.0" lengthAdjust="spacingAndGlyphs" >GFI</text>
<rect x="399.4" y="255.8" width="28.4" height="14.6" stroke="#141414" stroke-width="1.25" fill="none" />
<text x="402.4" y="267.3" font-size="11.8" font-style="italic" font-weight="normal" text-anchor="start" fill="#141414" stroke="#141414" stroke-width="0.18" textLength="22.0" lengthAdjust="spacingAndGlyphs" >GFI</text>
<rect x="185.7" y="243" width="12.6" height="15" stroke="#141414" stroke-width="1.25" fill="none" />
<text x="192.0" y="256.1" font-size="14.7" font-style="normal" font-weight="normal" text-anchor="middle" fill="#141414" stroke="#141414" stroke-width="0.15" >$</text>
<rect x="190" y="241.6" width="11.2" height="11.1" stroke="#141414" stroke-width="1.1" fill="none" />
<text x="193" y="251" font-size="9" font-style="normal" font-weight="normal" text-anchor="start" fill="#141414" stroke="#141414" stroke-width="0.18" >$</text>
<rect x="185.7" y="262.5" width="12.6" height="15.6" stroke="#141414" stroke-width="1.25" fill="none" />
<text x="192.0" y="276.1" font-size="15.3" font-style="normal" font-weight="normal" text-anchor="middle" fill="#141414" stroke="#141414" stroke-width="0.15" >$</text>
<rect x="273.5" y="243" width="12.7" height="15" stroke="#141414" stroke-width="1.25" fill="none" />
<text x="279.9" y="256.1" font-size="14.7" font-style="normal" font-weight="normal" text-anchor="middle" fill="#141414" stroke="#141414" stroke-width="0.15" >$</text>
<rect x="273.5" y="261.1" width="12.7" height="15.1" stroke="#141414" stroke-width="1.25" fill="none" />
<text x="279.9" y="274.2" font-size="14.8" font-style="normal" font-weight="normal" text-anchor="middle" fill="#141414" stroke="#141414" stroke-width="0.15" >$</text>
<rect x="280.5" y="268.4" width="8.2" height="9.7" stroke="#141414" stroke-width="1.1" fill="none" />
<text x="282" y="277" font-size="8" font-style="normal" font-weight="normal" text-anchor="start" fill="#141414" stroke="#141414" stroke-width="0.18" >$</text>
<rect x="184.2" y="278.8" width="12.7" height="5.2" stroke="#141414" stroke-width="1" fill="#fff" />
<rect x="271.1" y="278.8" width="12.7" height="5.2" stroke="#141414" stroke-width="1" fill="#fff" />
<circle cx="407" cy="8" r="1.5" stroke="#141414" stroke-width="0" fill="#8c8c8c"/>
<circle cx="412.5" cy="8" r="1.5" stroke="#141414" stroke-width="0" fill="#8c8c8c"/>
<circle cx="417.7" cy="8" r="1.5" stroke="#141414" stroke-width="0" fill="#8c8c8c"/>
<rect x="126" y="457.1" width="171" height="13.7" stroke="#141414" stroke-width="1.1" fill="none" />
<rect x="64.5" y="471.7" width="234.9" height="14.2" stroke="#141414" stroke-width="1.1" fill="none" />
<text x="128.5" y="467" font-size="10" font-style="italic" font-weight="normal" text-anchor="start" fill="#141414" stroke="#141414" stroke-width="0.18" textLength="17.9" lengthAdjust="spacingAndGlyphs" >1ST</text>
<text x="152.4" y="467" font-size="10" font-style="italic" font-weight="normal" text-anchor="start" fill="#141414" stroke="#141414" stroke-width="0.18" textLength="28.8" lengthAdjust="spacingAndGlyphs" >FLOOR</text>
<text x="188.8" y="467" font-size="10" font-style="italic" font-weight="normal" text-anchor="start" fill="#141414" stroke="#141414" stroke-width="0.18" textLength="57.6" lengthAdjust="spacingAndGlyphs" >ELECTRICAL</text>
<text x="253.9" y="467" font-size="10" font-style="italic" font-weight="normal" text-anchor="start" fill="#141414" stroke="#141414" stroke-width="0.18" textLength="39.4" lengthAdjust="spacingAndGlyphs" >LAYOUT</text>
<line x1="128" y1="468.5" x2="294" y2="468.5" stroke="#141414" stroke-width="0.9" />
<text x="67.6" y="482.2" font-size="10.4" font-style="italic" font-weight="normal" text-anchor="start" fill="#141414" stroke="#141414" stroke-width="0.18" textLength="16.6" lengthAdjust="spacingAndGlyphs" >ALL</text>
<text x="92.7" y="482.2" font-size="10.4" font-style="italic" font-weight="normal" text-anchor="start" fill="#141414" stroke="#141414" stroke-width="0.18" textLength="58.2" lengthAdjust="spacingAndGlyphs" >ELECTRICAL</text>
<text x="160" y="482.2" font-size="10.4" font-style="italic" font-weight="normal" text-anchor="start" fill="#141414" stroke="#141414" stroke-width="0.18" textLength="19" lengthAdjust="spacingAndGlyphs" >AND</text>
<text x="185.8" y="482.2" font-size="10.4" font-style="italic" font-weight="normal" text-anchor="start" fill="#141414" stroke="#141414" stroke-width="0.18" textLength="46.9" lengthAdjust="spacingAndGlyphs" >PLUMBING</text>
<text x="239.4" y="482.2" font-size="10.4" font-style="italic" font-weight="normal" text-anchor="start" fill="#141414" stroke="#141414" stroke-width="0.18" textLength="10.9" lengthAdjust="spacingAndGlyphs" >BY</text>
<text x="258.5" y="482.2" font-size="10.4" font-style="italic" font-weight="normal" text-anchor="start" fill="#141414" stroke="#141414" stroke-width="0.18" textLength="36.3" lengthAdjust="spacingAndGlyphs" >OTHERS</text>
<line x1="464.2" y1="9.5" x2="464.2" y2="408.6" stroke="#141414" stroke-width="1.25" />
<line x1="820.8" y1="9.5" x2="820.8" y2="408.6" stroke="#141414" stroke-width="1.25" />
<line x1="463.7" y1="9.5" x2="821.3" y2="9.5" stroke="#141414" stroke-width="1.25" />
<line x1="464.2" y1="408.6" x2="820.8" y2="408.6" stroke="#141414" stroke-width="1.25" />
<line x1="470" y1="15.1" x2="470" y2="303.5" stroke="#141414" stroke-width="1.25" />
<line x1="470" y1="15.1" x2="814.6" y2="15.1" stroke="#141414" stroke-width="1.25" />
<line x1="814.6" y1="15.1" x2="814.6" y2="303.5" stroke="#141414" stroke-width="1.25" />
<path d="M470 303.5 H609.7 V309.3 H464.2" stroke="#141414" stroke-width="1.2" fill="none" />
<rect x="646.5" y="303.5" width="13.6" height="5.9" stroke="#141414" stroke-width="1.25" fill="none" />
<path d="M814.6 303.5 H697.1 V309.3 H820.8" stroke="#141414" stroke-width="1.2" fill="none" />
<line x1="510.6" y1="303.5" x2="510.6" y2="309.3" stroke="#141414" stroke-width="1.25" />
<line x1="592.6" y1="303.5" x2="592.6" y2="309.3" stroke="#141414" stroke-width="1.25" />
<line x1="510.6" y1="306.3" x2="548.7" y2="306.3" stroke="#141414" stroke-width="0.9" />
<line x1="554.5" y1="306.3" x2="592.6" y2="306.3" stroke="#141414" stroke-width="0.9" />
<line x1="548.7" y1="303.5" x2="548.7" y2="309.3" stroke="#141414" stroke-width="1.25" />
<line x1="554.5" y1="303.5" x2="554.5" y2="309.3" stroke="#141414" stroke-width="1.25" />
<line x1="735.4" y1="303.5" x2="735.4" y2="309.3" stroke="#141414" stroke-width="1.25" />
<line x1="773.5" y1="303.5" x2="773.5" y2="309.3" stroke="#141414" stroke-width="1.25" />
<line x1="735.4" y1="306.3" x2="773.5" y2="306.3" stroke="#141414" stroke-width="0.9" />
<line x1="464.2" y1="200.2" x2="470" y2="200.2" stroke="#141414" stroke-width="1.25" />
<line x1="464.2" y1="250.5" x2="470" y2="250.5" stroke="#141414" stroke-width="1.25" />
<line x1="467" y1="200.2" x2="467" y2="250.5" stroke="#141414" stroke-width="0.9" />
<line x1="814.6" y1="200.2" x2="820.8" y2="200.2" stroke="#141414" stroke-width="1.25" />
<line x1="814.6" y1="250.5" x2="820.8" y2="250.5" stroke="#141414" stroke-width="1.25" />
<line x1="817.7" y1="200.2" x2="817.7" y2="250.5" stroke="#141414" stroke-width="0.9" />
<line x1="519.8" y1="15.1" x2="519.8" y2="66" stroke="#141414" stroke-width="1.1" stroke-dasharray="12.5 2.8"/>
<line x1="530.5" y1="15.1" x2="530.5" y2="66" stroke="#141414" stroke-width="1.1" stroke-dasharray="12.5 2.8"/>
<line x1="541" y1="15.1" x2="541" y2="66" stroke="#141414" stroke-width="1.1" stroke-dasharray="12.5 2.8"/>
<line x1="547.6" y1="15.1" x2="547.6" y2="66" stroke="#141414" stroke-width="1.25" />
<line x1="551" y1="15.1" x2="551" y2="66" stroke="#141414" stroke-width="1.25" />
<line x1="561.7" y1="15.1" x2="561.7" y2="65" stroke="#141414" stroke-width="1.25" />
<line x1="572.2" y1="15.1" x2="572.2" y2="65" stroke="#141414" stroke-width="1.25" />
<line x1="582.6" y1="15.1" x2="582.6" y2="65" stroke="#141414" stroke-width="1.25" />
<line x1="593.0" y1="15.1" x2="593.0" y2="65" stroke="#141414" stroke-width="1.25" />
<line x1="603.4" y1="15.1" x2="603.4" y2="65" stroke="#141414" stroke-width="1.25" />
<line x1="613.9" y1="15.1" x2="613.9" y2="65" stroke="#141414" stroke-width="1.25" />
<line x1="624.3" y1="15.1" x2="624.3" y2="65" stroke="#141414" stroke-width="1.25" />
<line x1="634.7" y1="15.1" x2="634.7" y2="65" stroke="#141414" stroke-width="1.25" />
<line x1="645.2" y1="15.1" x2="645.2" y2="65" stroke="#141414" stroke-width="1.25" />
<line x1="655.6" y1="15.1" x2="655.6" y2="65" stroke="#141414" stroke-width="1.25" />
<line x1="666.0" y1="15.1" x2="666.0" y2="65" stroke="#141414" stroke-width="1.25" />
<line x1="676.5" y1="15.1" x2="676.5" y2="65" stroke="#141414" stroke-width="1.25" />
<line x1="686.9" y1="15.1" x2="686.9" y2="65" stroke="#141414" stroke-width="1.25" />
<line x1="545" y1="65" x2="687" y2="65" stroke="#141414" stroke-width="1.25" />
<line x1="545" y1="68.4" x2="687" y2="68.4" stroke="#141414" stroke-width="1.25" />
<line x1="687" y1="65" x2="687" y2="68.4" stroke="#141414" stroke-width="1.25" />
<rect x="551" y="34.4" width="142" height="17.6" stroke="#141414" stroke-width="1.25" fill="none" />
<line x1="513.6" y1="66" x2="545.1" y2="66" stroke="#111" stroke-width="2.2" />
<text x="559.3" y="49.6" font-size="9.6" font-style="italic" fill="#141414" stroke="#141414" stroke-width="0.3" text-anchor="start" transform="rotate(-90 559.3 49.6)">5</text>
<text x="569.7" y="49.6" font-size="9.6" font-style="italic" fill="#141414" stroke="#141414" stroke-width="0.3" text-anchor="start" transform="rotate(-90 569.7 49.6)">6</text>
<text x="580.2" y="49.6" font-size="9.6" font-style="italic" fill="#141414" stroke="#141414" stroke-width="0.3" text-anchor="start" transform="rotate(-90 580.2 49.6)">7</text>
<text x="590.6" y="49.6" font-size="9.6" font-style="italic" fill="#141414" stroke="#141414" stroke-width="0.3" text-anchor="start" transform="rotate(-90 590.6 49.6)">8</text>
<text x="601.0" y="49.6" font-size="9.6" font-style="italic" fill="#141414" stroke="#141414" stroke-width="0.3" text-anchor="start" transform="rotate(-90 601.0 49.6)">9</text>
<text x="611.4" y="49.6" font-size="9.6" font-style="italic" fill="#141414" stroke="#141414" stroke-width="0.3" text-anchor="start" transform="rotate(-90 611.4 49.6)">10</text>
<text x="621.9" y="49.6" font-size="9.6" font-style="italic" fill="#141414" stroke="#141414" stroke-width="0.3" text-anchor="start" transform="rotate(-90 621.9 49.6)">11</text>
<text x="632.3" y="49.6" font-size="9.6" font-style="italic" fill="#141414" stroke="#141414" stroke-width="0.3" text-anchor="start" transform="rotate(-90 632.3 49.6)">12</text>
<text x="642.7" y="49.6" font-size="9.6" font-style="italic" fill="#141414" stroke="#141414" stroke-width="0.3" text-anchor="start" transform="rotate(-90 642.7 49.6)">13</text>
<text x="653.2" y="49.6" font-size="9.6" font-style="italic" fill="#141414" stroke="#141414" stroke-width="0.3" text-anchor="start" transform="rotate(-90 653.2 49.6)">14</text>
<text x="663.6" y="49.6" font-size="9.6" font-style="italic" fill="#141414" stroke="#141414" stroke-width="0.3" text-anchor="start" transform="rotate(-90 663.6 49.6)">15</text>
<text x="674.0" y="49.6" font-size="9.6" font-style="italic" fill="#141414" stroke="#141414" stroke-width="0.3" text-anchor="start" transform="rotate(-90 674.0 49.6)">16</text>
<text x="684.5" y="49.6" font-size="9.6" font-style="italic" fill="#141414" stroke="#141414" stroke-width="0.3" text-anchor="start" transform="rotate(-90 684.5 49.6)">17</text>
<text x="694.9" y="49.6" font-size="9.6" font-style="italic" fill="#141414" stroke="#141414" stroke-width="0.3" text-anchor="start" transform="rotate(-90 694.9 49.6)">18</text>
<rect x="651.2" y="68.4" width="4.3" height="5.1" stroke="#141414" stroke-width="1.25" fill="none" />
<rect x="739.7" y="15.1" width="4.6" height="4.6" stroke="#141414" stroke-width="1.25" fill="none" />
<path d="M470 64.5 H498.2 V75 M470 68 H495.2 V144" stroke="#141414" stroke-width="1.2" fill="none" />
<path d="M470 144 H505 M470 147.5 H501.2 V144" stroke="#141414" stroke-width="1.2" fill="none" />
<ellipse cx="481.5" cy="84.7" rx="6.8" ry="8.8" stroke="#141414" stroke-width="1.9" fill="#fff" />
<ellipse cx="481.5" cy="84.7" rx="4" ry="4.3" stroke="#141414" stroke-width="1.5" fill="none" />
<circle cx="481.5" cy="84.7" r="1.6" stroke="#141414" stroke-width="0" fill="#111"/>
<path d="M473 80.10000000000001 v3.6 M473 85.7 v3.6" stroke="#111" stroke-width="2.8" fill="none" />
<ellipse cx="481.5" cy="127.8" rx="6.8" ry="8.8" stroke="#141414" stroke-width="1.9" fill="#fff" />
<ellipse cx="481.5" cy="127.8" rx="4" ry="4.3" stroke="#141414" stroke-width="1.5" fill="none" />
<circle cx="481.5" cy="127.8" r="1.6" stroke="#141414" stroke-width="0" fill="#111"/>
<path d="M473 123.2 v3.6 M473 128.8 v3.6" stroke="#111" stroke-width="2.8" fill="none" />
<path d="M532.4 69.8 H588.8 V111.7 H551.1 L532.4 89.4 Z" stroke="#141414" stroke-width="1.2" fill="none" />
<line x1="532.4" y1="69.8" x2="588.8" y2="111.7" stroke="#141414" stroke-width="1.25" />
<line x1="588.8" y1="69.8" x2="547" y2="106.8" stroke="#141414" stroke-width="1.25" />
<line x1="588.8" y1="68.4" x2="588.8" y2="144.9" stroke="#141414" stroke-width="1.25" />
<line x1="592" y1="68.4" x2="592" y2="144.9" stroke="#141414" stroke-width="1.25" />
<line x1="516.5" y1="144.9" x2="592" y2="144.9" stroke="#141414" stroke-width="1.6" />
<line x1="532" y1="144.5" x2="548" y2="144.5" stroke="#111" stroke-width="2.4" />
<rect x="553.8" y="121.5" width="19.2" height="18.6" stroke="#141414" stroke-width="1" fill="none" />
<ellipse cx="563.4" cy="130.8" rx="8.8" ry="9.4" stroke="#141414" stroke-width="1.8" fill="none" />
<path d="M557 127 C560 122 564 128 566 133 C567.5 136.5 570 138 571.5 134" stroke="#141414" stroke-width="1.5" fill="none" />
<rect x="579" y="121" width="8.5" height="21.3" stroke="#141414" stroke-width="1.5" fill="none" />
<path d="M573 124.5 L579 126 M573 137 L579 135.5" stroke="#141414" stroke-width="1" fill="none" />
<rect x="689.7" y="84.5" width="24.9" height="55.5" stroke="#141414" stroke-width="1.25" fill="none" />
<line x1="651.5" y1="106.4" x2="651.5" y2="303.5" stroke="#141414" stroke-width="1.25" />
<line x1="655.2" y1="106.4" x2="655.2" y2="303.5" stroke="#141414" stroke-width="1.25" />
<line x1="651.5" y1="106.4" x2="655.2" y2="106.4" stroke="#141414" stroke-width="1.25" />
<rect x="655.9" y="146.6" width="4.3" height="3.7" stroke="#141414" stroke-width="1.25" fill="none" />
<path d="M740.6 50.4 V147.2 H711.5 V150.6 H754.2 V147.2 H744 V50.4 Z" stroke="#141414" stroke-width="1.2" fill="none" />
<rect x="804.7" y="147.2" width="9.9" height="3.4" stroke="#141414" stroke-width="1.25" fill="none" />
<line x1="793" y1="15.1" x2="793" y2="45.8" stroke="#141414" stroke-width="1.25" />
<line x1="793" y1="45.8" x2="814.6" y2="45.8" stroke="#141414" stroke-width="1.25" />
<ellipse cx="803" cy="30.3" rx="7.5" ry="9" stroke="#141414" stroke-width="1.9" fill="none" />
<ellipse cx="803" cy="30.3" rx="4.1" ry="4.4" stroke="#141414" stroke-width="1.5" fill="none" />
<circle cx="803" cy="30.3" r="1.6" stroke="#141414" stroke-width="0" fill="#111"/>
<path d="M812 25.6 v3.6 M812 31 v3.6" stroke="#111" stroke-width="2.8" fill="none" />
<line x1="744" y1="85.1" x2="814.6" y2="85.1" stroke="#141414" stroke-width="1.25" />
<line x1="744" y1="115.3" x2="814.6" y2="115.3" stroke="#141414" stroke-width="1.25" />
<line x1="744" y1="118" x2="814.6" y2="118" stroke="#141414" stroke-width="1.5" />
<line x1="744" y1="121.7" x2="814.6" y2="121.7" stroke="#141414" stroke-width="1.25" />
<path d="M766.8 89 H807.4 Q809.8 89 809.8 91.4 V110.2 Q809.8 112.6 807.4 112.6 H766.8 A11.8 11.8 0 0 1 766.8 89 Z" stroke="#141414" stroke-width="1.2" fill="none" />
<circle cx="804.4" cy="101" r="1.8" stroke="#141414" stroke-width="0" fill="#111"/>
<rect x="782.4" y="59" width="18.8" height="17.9" stroke="#141414" stroke-width="1" fill="none" />
<ellipse cx="791.5" cy="67.6" rx="9.6" ry="8.6" stroke="#141414" stroke-width="2" fill="none" />
<rect x="785.5" y="62" width="11" height="9.5" rx="3.5" stroke="#141414" stroke-width="1.6" fill="none" transform="rotate(25 791 66.7)"/>
<rect x="805.2" y="58.1" width="8.0" height="20.5" stroke="#141414" stroke-width="1.5" fill="none" />
<path d="M801.2 62 L805.2 63.5 M801.2 74.5 L805.2 73" stroke="#141414" stroke-width="1" fill="none" />
<circle cx="478.9" cy="101.8" r="4.3" stroke="#a8a8a8" stroke-width="0.8" fill="none"/>
<line x1="468.4" y1="100.8" x2="489.4" y2="100.8" stroke="#a8a8a8" stroke-width="0.8" />
<line x1="468.4" y1="102.8" x2="489.4" y2="102.8" stroke="#a8a8a8" stroke-width="0.8" />
<circle cx="485.8" cy="152.3" r="4.3" stroke="#a8a8a8" stroke-width="0.8" fill="none"/>
<line x1="475.3" y1="151.3" x2="496.3" y2="151.3" stroke="#a8a8a8" stroke-width="0.8" />
<line x1="475.3" y1="153.3" x2="496.3" y2="153.3" stroke="#a8a8a8" stroke-width="0.8" />
<circle cx="577.2" cy="152.8" r="4.3" stroke="#a8a8a8" stroke-width="0.8" fill="none"/>
<line x1="566.7" y1="151.8" x2="587.7" y2="151.8" stroke="#a8a8a8" stroke-width="0.8" />
<line x1="566.7" y1="153.8" x2="587.7" y2="153.8" stroke="#a8a8a8" stroke-width="0.8" />
<circle cx="479.3" cy="173.8" r="4.3" stroke="#a8a8a8" stroke-width="0.8" fill="none"/>
<line x1="468.8" y1="172.8" x2="489.8" y2="172.8" stroke="#a8a8a8" stroke-width="0.8" />
<line x1="468.8" y1="174.8" x2="489.8" y2="174.8" stroke="#a8a8a8" stroke-width="0.8" />
<circle cx="480.1" cy="273.6" r="4.3" stroke="#a8a8a8" stroke-width="0.8" fill="none"/>
<line x1="469.6" y1="272.6" x2="490.6" y2="272.6" stroke="#a8a8a8" stroke-width="0.8" />
<line x1="469.6" y1="274.6" x2="490.6" y2="274.6" stroke="#a8a8a8" stroke-width="0.8" />
<circle cx="494" cy="297.9" r="4.3" stroke="#a8a8a8" stroke-width="0.8" fill="none"/>
<line x1="483.5" y1="296.9" x2="504.5" y2="296.9" stroke="#a8a8a8" stroke-width="0.8" />
<line x1="483.5" y1="298.9" x2="504.5" y2="298.9" stroke="#a8a8a8" stroke-width="0.8" />
<circle cx="640.8" cy="183.6" r="4.3" stroke="#a8a8a8" stroke-width="0.8" fill="none"/>
<line x1="630.3" y1="182.6" x2="651.3" y2="182.6" stroke="#a8a8a8" stroke-width="0.8" />
<line x1="630.3" y1="184.6" x2="651.3" y2="184.6" stroke="#a8a8a8" stroke-width="0.8" />
<circle cx="668.2" cy="187.9" r="4.3" stroke="#a8a8a8" stroke-width="0.8" fill="none"/>
<line x1="657.7" y1="186.9" x2="678.7" y2="186.9" stroke="#a8a8a8" stroke-width="0.8" />
<line x1="657.7" y1="188.9" x2="678.7" y2="188.9" stroke="#a8a8a8" stroke-width="0.8" />
<circle cx="642" cy="250.5" r="4.3" stroke="#a8a8a8" stroke-width="0.8" fill="none"/>
<line x1="631.5" y1="249.5" x2="652.5" y2="249.5" stroke="#a8a8a8" stroke-width="0.8" />
<line x1="631.5" y1="251.5" x2="652.5" y2="251.5" stroke="#a8a8a8" stroke-width="0.8" />
<circle cx="667.3" cy="249.7" r="4.3" stroke="#a8a8a8" stroke-width="0.8" fill="none"/>
<line x1="656.8" y1="248.7" x2="677.8" y2="248.7" stroke="#a8a8a8" stroke-width="0.8" />
<line x1="656.8" y1="250.7" x2="677.8" y2="250.7" stroke="#a8a8a8" stroke-width="0.8" />
<circle cx="729.4" cy="75.3" r="4.3" stroke="#a8a8a8" stroke-width="0.8" fill="none"/>
<line x1="718.9" y1="74.3" x2="739.9" y2="74.3" stroke="#a8a8a8" stroke-width="0.8" />
<line x1="718.9" y1="76.3" x2="739.9" y2="76.3" stroke="#a8a8a8" stroke-width="0.8" />
<circle cx="720" cy="136.9" r="4.3" stroke="#a8a8a8" stroke-width="0.8" fill="none"/>
<line x1="709.5" y1="135.9" x2="730.5" y2="135.9" stroke="#a8a8a8" stroke-width="0.8" />
<line x1="709.5" y1="137.9" x2="730.5" y2="137.9" stroke="#a8a8a8" stroke-width="0.8" />
<circle cx="726" cy="157.5" r="4.3" stroke="#a8a8a8" stroke-width="0.8" fill="none"/>
<line x1="715.5" y1="156.5" x2="736.5" y2="156.5" stroke="#a8a8a8" stroke-width="0.8" />
<line x1="715.5" y1="158.5" x2="736.5" y2="158.5" stroke="#a8a8a8" stroke-width="0.8" />
<circle cx="804.7" cy="44.1" r="4.3" stroke="#a8a8a8" stroke-width="0.8" fill="none"/>
<line x1="794.2" y1="43.1" x2="815.2" y2="43.1" stroke="#a8a8a8" stroke-width="0.8" />
<line x1="794.2" y1="45.1" x2="815.2" y2="45.1" stroke="#a8a8a8" stroke-width="0.8" />
<circle cx="807.2" cy="174" r="4.3" stroke="#a8a8a8" stroke-width="0.8" fill="none"/>
<line x1="796.7" y1="173" x2="817.7" y2="173" stroke="#a8a8a8" stroke-width="0.8" />
<line x1="796.7" y1="175" x2="817.7" y2="175" stroke="#a8a8a8" stroke-width="0.8" />
<circle cx="807.2" cy="269" r="4.3" stroke="#a8a8a8" stroke-width="0.8" fill="none"/>
<line x1="796.7" y1="268" x2="817.7" y2="268" stroke="#a8a8a8" stroke-width="0.8" />
<line x1="796.7" y1="270" x2="817.7" y2="270" stroke="#a8a8a8" stroke-width="0.8" />
<circle cx="797.8" cy="297.9" r="4.3" stroke="#a8a8a8" stroke-width="0.8" fill="none"/>
<line x1="787.3" y1="296.9" x2="808.3" y2="296.9" stroke="#a8a8a8" stroke-width="0.8" />
<line x1="787.3" y1="298.9" x2="808.3" y2="298.9" stroke="#a8a8a8" stroke-width="0.8" />
<circle cx="724" cy="296.3" r="4.3" stroke="#a8a8a8" stroke-width="0.8" fill="none"/>
<line x1="713.5" y1="295.3" x2="734.5" y2="295.3" stroke="#a8a8a8" stroke-width="0.8" />
<line x1="713.5" y1="297.3" x2="734.5" y2="297.3" stroke="#a8a8a8" stroke-width="0.8" />
<path d="M505.5 41 C514 50 511 64 498.2 68.6" stroke="#141414" stroke-width="1.2" fill="none" />
<path d="M513.3 176 Q556.7 207.6 600.2 176" stroke="#141414" stroke-width="1.2" fill="none" />
<path d="M513.3 176 Q492.1 220 513.3 264.6" stroke="#141414" stroke-width="1.2" fill="none" />
<path d="M600.2 176 Q621.4 220 600.2 264.6" stroke="#141414" stroke-width="1.2" fill="none" />
<path d="M513.3 264.6 Q556.7 235.2 600.2 264.6" stroke="#141414" stroke-width="1.2" fill="none" />
<path d="M634.6 117 C615 125 600 145 600.2 176" stroke="#141414" stroke-width="1.2" fill="none" />
<path d="M636.3 129.8 C636 165 612 207 559.8 221.1" stroke="#141414" stroke-width="1.2" fill="none" />
<path d="M694.4 180.9 Q738 212.1 781.4 180.9" stroke="#141414" stroke-width="1.2" fill="none" />
<path d="M694.4 180.9 Q673.6 225 694.4 270" stroke="#141414" stroke-width="1.2" fill="none" />
<path d="M781.4 180.9 Q802 225 781.4 270" stroke="#141414" stroke-width="1.2" fill="none" />
<path d="M694.4 270 Q738 241 781.4 270" stroke="#141414" stroke-width="1.2" fill="none" />
<path d="M709 165 C712 190 722 210 736.1 224.8" stroke="#141414" stroke-width="1.2" fill="none" />
<path d="M703.5 165 C706 172 704 178 694.4 180.9" stroke="#141414" stroke-width="1.2" fill="none" />
<path d="M714.5 36.5 L713 30" stroke="#141414" stroke-width="1.2" fill="none" />
<path d="M700 44 C680 60 672 85 673.5 103.5" stroke="#141414" stroke-width="1.2" fill="none" />
<path d="M675.5 112 C680 126 690 134 698 136" stroke="#141414" stroke-width="1.2" fill="none" />
<path d="M494 131 C500 118 508 111 513 108.5" stroke="#141414" stroke-width="1.2" fill="none" />
<path d="M518 101 C528 78 548 78 556 90.5" stroke="#141414" stroke-width="1.2" fill="none" />
<path d="M497 131 C520 118 545 121 555 126.5" stroke="#141414" stroke-width="1.2" fill="none" />
<path d="M760 58 C765 50 768 47 770 46.5" stroke="#141414" stroke-width="1.2" fill="none" />
<path d="M760 68 C768 64 776 62 782 62.5" stroke="#141414" stroke-width="1.2" fill="none" />
<path d="M780 50 C778 60 779 72 778 80 C777.5 87 776.5 91 775.8 94" stroke="#141414" stroke-width="1.2" fill="none" />
<path d="M602 303.5 C602 330 585 352 550.5 354" stroke="#141414" stroke-width="1.2" fill="none" />
<path d="M712 303.5 C703 325 712 350 734 354" stroke="#141414" stroke-width="1.2" fill="none" />
<path d="M602 288.5 V303.5 M712 288.5 V303.5" stroke="#141414" stroke-width="1.2" fill="none" />
<circle cx="513.3" cy="176" r="4.5" stroke="#141414" stroke-width="1.35" fill="none"/>
<line x1="504.79999999999995" y1="176" x2="509.29999999999995" y2="176" stroke="#141414" stroke-width="1.35" />
<line x1="517.3" y1="176" x2="521.8" y2="176" stroke="#141414" stroke-width="1.35" />
<line x1="513.3" y1="167.5" x2="513.3" y2="172.0" stroke="#141414" stroke-width="1.35" />
<line x1="513.3" y1="180.0" x2="513.3" y2="184.5" stroke="#141414" stroke-width="1.35" />
<circle cx="600.2" cy="176" r="4.5" stroke="#141414" stroke-width="1.35" fill="none"/>
<line x1="591.7" y1="176" x2="596.2" y2="176" stroke="#141414" stroke-width="1.35" />
<line x1="604.2" y1="176" x2="608.7" y2="176" stroke="#141414" stroke-width="1.35" />
<line x1="600.2" y1="167.5" x2="600.2" y2="172.0" stroke="#141414" stroke-width="1.35" />
<line x1="600.2" y1="180.0" x2="600.2" y2="184.5" stroke="#141414" stroke-width="1.35" />
<circle cx="513.3" cy="264.6" r="4.5" stroke="#141414" stroke-width="1.35" fill="none"/>
<line x1="504.79999999999995" y1="264.6" x2="509.29999999999995" y2="264.6" stroke="#141414" stroke-width="1.35" />
<line x1="517.3" y1="264.6" x2="521.8" y2="264.6" stroke="#141414" stroke-width="1.35" />
<line x1="513.3" y1="256.1" x2="513.3" y2="260.6" stroke="#141414" stroke-width="1.35" />
<line x1="513.3" y1="268.6" x2="513.3" y2="273.1" stroke="#141414" stroke-width="1.35" />
<circle cx="600.2" cy="264.6" r="4.5" stroke="#141414" stroke-width="1.35" fill="none"/>
<line x1="591.7" y1="264.6" x2="596.2" y2="264.6" stroke="#141414" stroke-width="1.35" />
<line x1="604.2" y1="264.6" x2="608.7" y2="264.6" stroke="#141414" stroke-width="1.35" />
<line x1="600.2" y1="256.1" x2="600.2" y2="260.6" stroke="#141414" stroke-width="1.35" />
<line x1="600.2" y1="268.6" x2="600.2" y2="273.1" stroke="#141414" stroke-width="1.35" />
<circle cx="694.4" cy="180.9" r="4.5" stroke="#141414" stroke-width="1.35" fill="none"/>
<line x1="685.9" y1="180.9" x2="690.4" y2="180.9" stroke="#141414" stroke-width="1.35" />
<line x1="698.4" y1="180.9" x2="702.9" y2="180.9" stroke="#141414" stroke-width="1.35" />
<line x1="694.4" y1="172.4" x2="694.4" y2="176.9" stroke="#141414" stroke-width="1.35" />
<line x1="694.4" y1="184.9" x2="694.4" y2="189.4" stroke="#141414" stroke-width="1.35" />
<circle cx="781.4" cy="180.9" r="4.5" stroke="#141414" stroke-width="1.35" fill="none"/>
<line x1="772.9" y1="180.9" x2="777.4" y2="180.9" stroke="#141414" stroke-width="1.35" />
<line x1="785.4" y1="180.9" x2="789.9" y2="180.9" stroke="#141414" stroke-width="1.35" />
<line x1="781.4" y1="172.4" x2="781.4" y2="176.9" stroke="#141414" stroke-width="1.35" />
<line x1="781.4" y1="184.9" x2="781.4" y2="189.4" stroke="#141414" stroke-width="1.35" />
<circle cx="694.4" cy="270" r="4.5" stroke="#141414" stroke-width="1.35" fill="none"/>
<line x1="685.9" y1="270" x2="690.4" y2="270" stroke="#141414" stroke-width="1.35" />
<line x1="698.4" y1="270" x2="702.9" y2="270" stroke="#141414" stroke-width="1.35" />
<line x1="694.4" y1="261.5" x2="694.4" y2="266.0" stroke="#141414" stroke-width="1.35" />
<line x1="694.4" y1="274.0" x2="694.4" y2="278.5" stroke="#141414" stroke-width="1.35" />
<circle cx="781.4" cy="270" r="4.5" stroke="#141414" stroke-width="1.35" fill="none"/>
<line x1="772.9" y1="270" x2="777.4" y2="270" stroke="#141414" stroke-width="1.35" />
<line x1="785.4" y1="270" x2="789.9" y2="270" stroke="#141414" stroke-width="1.35" />
<line x1="781.4" y1="261.5" x2="781.4" y2="266.0" stroke="#141414" stroke-width="1.35" />
<line x1="781.4" y1="274.0" x2="781.4" y2="278.5" stroke="#141414" stroke-width="1.35" />
<circle cx="504.8" cy="37.7" r="4.4" stroke="#141414" stroke-width="1.35" fill="none"/>
<line x1="496.6" y1="37.7" x2="500.90000000000003" y2="37.7" stroke="#141414" stroke-width="1.35" />
<line x1="508.7" y1="37.7" x2="513.0" y2="37.7" stroke="#141414" stroke-width="1.35" />
<line x1="504.8" y1="29.500000000000004" x2="504.8" y2="33.800000000000004" stroke="#141414" stroke-width="1.35" />
<line x1="504.8" y1="41.6" x2="504.8" y2="45.9" stroke="#141414" stroke-width="1.35" />
<circle cx="596.5" cy="40.7" r="4.2" stroke="#141414" stroke-width="1.35" fill="none"/>
<line x1="588.6999999999999" y1="40.7" x2="592.8" y2="40.7" stroke="#141414" stroke-width="1.35" />
<line x1="600.2" y1="40.7" x2="604.3000000000001" y2="40.7" stroke="#141414" stroke-width="1.35" />
<line x1="596.5" y1="32.9" x2="596.5" y2="37.0" stroke="#141414" stroke-width="1.35" />
<line x1="596.5" y1="44.400000000000006" x2="596.5" y2="48.50000000000001" stroke="#141414" stroke-width="1.35" />
<circle cx="656.7" cy="41" r="4.2" stroke="#141414" stroke-width="1.35" fill="none"/>
<line x1="648.9" y1="41" x2="653.0" y2="41" stroke="#141414" stroke-width="1.35" />
<line x1="660.4000000000001" y1="41" x2="664.5000000000001" y2="41" stroke="#141414" stroke-width="1.35" />
<line x1="656.7" y1="33.199999999999996" x2="656.7" y2="37.3" stroke="#141414" stroke-width="1.35" />
<line x1="656.7" y1="44.7" x2="656.7" y2="48.800000000000004" stroke="#141414" stroke-width="1.35" />
<circle cx="716.6" cy="41.5" r="4.8" stroke="#141414" stroke-width="1.35" fill="none"/>
<line x1="708.2" y1="41.5" x2="712.3000000000001" y2="41.5" stroke="#141414" stroke-width="1.35" />
<line x1="720.9" y1="41.5" x2="725.0" y2="41.5" stroke="#141414" stroke-width="1.35" />
<line x1="716.6" y1="33.1" x2="716.6" y2="37.2" stroke="#141414" stroke-width="1.35" />
<line x1="716.6" y1="45.8" x2="716.6" y2="49.9" stroke="#141414" stroke-width="1.35" />
<circle cx="673.9" cy="107.9" r="4.6" stroke="#141414" stroke-width="1.35" fill="none"/>
<line x1="665.5" y1="107.9" x2="669.8" y2="107.9" stroke="#141414" stroke-width="1.35" />
<line x1="678.0" y1="107.9" x2="682.3" y2="107.9" stroke="#141414" stroke-width="1.35" />
<line x1="673.9" y1="99.50000000000001" x2="673.9" y2="103.80000000000001" stroke="#141414" stroke-width="1.35" />
<line x1="673.9" y1="112.0" x2="673.9" y2="116.3" stroke="#141414" stroke-width="1.35" />
<line x1="673.9" y1="103" x2="673.9" y2="113" stroke="#141414" stroke-width="1" />
<circle cx="516" cy="105.6" r="4.6" stroke="#141414" stroke-width="1.35" fill="none"/>
<line x1="507.79999999999995" y1="105.6" x2="511.9" y2="105.6" stroke="#141414" stroke-width="1.35" />
<line x1="520.1" y1="105.6" x2="524.2" y2="105.6" stroke="#141414" stroke-width="1.35" />
<line x1="516" y1="97.4" x2="516" y2="101.5" stroke="#141414" stroke-width="1.35" />
<line x1="516" y1="109.69999999999999" x2="516" y2="113.79999999999998" stroke="#141414" stroke-width="1.35" />
<circle cx="555" cy="93.3" r="4.5" stroke="#141414" stroke-width="1.35" fill="none"/>
<line x1="547.1" y1="93.3" x2="551.0" y2="93.3" stroke="#141414" stroke-width="1.35" />
<line x1="559.0" y1="93.3" x2="562.9" y2="93.3" stroke="#141414" stroke-width="1.35" />
<line x1="555" y1="85.39999999999999" x2="555" y2="89.3" stroke="#141414" stroke-width="1.35" />
<line x1="555" y1="97.3" x2="555" y2="101.2" stroke="#141414" stroke-width="1.35" />
<circle cx="773" cy="45.8" r="5.2" stroke="#141414" stroke-width="1.35" fill="none"/>
<line x1="764.1999999999999" y1="45.8" x2="768.3" y2="45.8" stroke="#141414" stroke-width="1.35" />
<line x1="777.7" y1="45.8" x2="781.8000000000001" y2="45.8" stroke="#141414" stroke-width="1.35" />
<line x1="773" y1="36.99999999999999" x2="773" y2="41.099999999999994" stroke="#141414" stroke-width="1.35" />
<line x1="773" y1="50.5" x2="773" y2="54.6" stroke="#141414" stroke-width="1.35" />
<circle cx="776.1" cy="98.4" r="5.3" stroke="#141414" stroke-width="1.35" fill="none"/>
<line x1="767.2" y1="98.4" x2="771.3000000000001" y2="98.4" stroke="#141414" stroke-width="1.35" />
<line x1="780.9" y1="98.4" x2="785.0" y2="98.4" stroke="#141414" stroke-width="1.35" />
<line x1="776.1" y1="89.50000000000001" x2="776.1" y2="93.60000000000001" stroke="#141414" stroke-width="1.35" />
<line x1="776.1" y1="103.2" x2="776.1" y2="107.3" stroke="#141414" stroke-width="1.35" />
<circle cx="545.2" cy="354.5" r="5" stroke="#141414" stroke-width="1.35" fill="none"/>
<line x1="536.6" y1="354.5" x2="540.7" y2="354.5" stroke="#141414" stroke-width="1.35" />
<line x1="549.7" y1="354.5" x2="553.8000000000001" y2="354.5" stroke="#141414" stroke-width="1.35" />
<line x1="545.2" y1="345.9" x2="545.2" y2="350.0" stroke="#141414" stroke-width="1.35" />
<line x1="545.2" y1="359.0" x2="545.2" y2="363.1" stroke="#141414" stroke-width="1.35" />
<circle cx="739.1" cy="354.6" r="5" stroke="#141414" stroke-width="1.35" fill="none"/>
<line x1="730.5" y1="354.6" x2="734.6" y2="354.6" stroke="#141414" stroke-width="1.35" />
<line x1="743.6" y1="354.6" x2="747.7" y2="354.6" stroke="#141414" stroke-width="1.35" />
<line x1="739.1" y1="346.0" x2="739.1" y2="350.1" stroke="#141414" stroke-width="1.35" />
<line x1="739.1" y1="359.1" x2="739.1" y2="363.20000000000005" stroke="#141414" stroke-width="1.35" />
<path d="M563.4 219.0 L580.8 217.79999999999998 Q581.8 217.79999999999998 581.8 218.79999999999998 L581.8 223.4 Q581.8 224.4 580.8 224.4 L563.4 223.2 Z" stroke="#141414" stroke-width="1.5" fill="none" stroke-linejoin="round" transform="rotate(45 559.8 221.1)"/>
<path d="M563.4 219.0 L580.8 217.79999999999998 Q581.8 217.79999999999998 581.8 218.79999999999998 L581.8 223.4 Q581.8 224.4 580.8 224.4 L563.4 223.2 Z" stroke="#141414" stroke-width="1.5" fill="none" stroke-linejoin="round" transform="rotate(135 559.8 221.1)"/>
<path d="M563.4 219.0 L580.8 217.79999999999998 Q581.8 217.79999999999998 581.8 218.79999999999998 L581.8 223.4 Q581.8 224.4 580.8 224.4 L563.4 223.2 Z" stroke="#141414" stroke-width="1.5" fill="none" stroke-linejoin="round" transform="rotate(225 559.8 221.1)"/>
<path d="M563.4 219.0 L580.8 217.79999999999998 Q581.8 217.79999999999998 581.8 218.79999999999998 L581.8 223.4 Q581.8 224.4 580.8 224.4 L563.4 223.2 Z" stroke="#141414" stroke-width="1.5" fill="none" stroke-linejoin="round" transform="rotate(315 559.8 221.1)"/>
<circle cx="559.8" cy="221.1" r="4.3" stroke="#141414" stroke-width="1.5" fill="none"/>
<line x1="564.3" y1="221.1" x2="567.8" y2="221.1" stroke="#141414" stroke-width="1.6" />
<line x1="555.3" y1="221.1" x2="551.8" y2="221.1" stroke="#141414" stroke-width="1.6" />
<line x1="559.8" y1="225.6" x2="559.8" y2="229.1" stroke="#141414" stroke-width="1.6" />
<line x1="559.8" y1="216.6" x2="559.8" y2="213.1" stroke="#141414" stroke-width="1.6" />
<path d="M739.7 222.70000000000002 L757.1 221.5 Q758.1 221.5 758.1 222.5 L758.1 227.10000000000002 Q758.1 228.10000000000002 757.1 228.10000000000002 L739.7 226.9 Z" stroke="#141414" stroke-width="1.5" fill="none" stroke-linejoin="round" transform="rotate(45 736.1 224.8)"/>
<path d="M739.7 222.70000000000002 L757.1 221.5 Q758.1 221.5 758.1 222.5 L758.1 227.10000000000002 Q758.1 228.10000000000002 757.1 228.10000000000002 L739.7 226.9 Z" stroke="#141414" stroke-width="1.5" fill="none" stroke-linejoin="round" transform="rotate(135 736.1 224.8)"/>
<path d="M739.7 222.70000000000002 L757.1 221.5 Q758.1 221.5 758.1 222.5 L758.1 227.10000000000002 Q758.1 228.10000000000002 757.1 228.10000000000002 L739.7 226.9 Z" stroke="#141414" stroke-width="1.5" fill="none" stroke-linejoin="round" transform="rotate(225 736.1 224.8)"/>
<path d="M739.7 222.70000000000002 L757.1 221.5 Q758.1 221.5 758.1 222.5 L758.1 227.10000000000002 Q758.1 228.10000000000002 757.1 228.10000000000002 L739.7 226.9 Z" stroke="#141414" stroke-width="1.5" fill="none" stroke-linejoin="round" transform="rotate(315 736.1 224.8)"/>
<circle cx="736.1" cy="224.8" r="4.3" stroke="#141414" stroke-width="1.5" fill="none"/>
<line x1="740.6" y1="224.8" x2="744.1" y2="224.8" stroke="#141414" stroke-width="1.6" />
<line x1="731.6" y1="224.8" x2="728.1" y2="224.8" stroke="#141414" stroke-width="1.6" />
<line x1="736.1" y1="229.3" x2="736.1" y2="232.8" stroke="#141414" stroke-width="1.6" />
<line x1="736.1" y1="220.3" x2="736.1" y2="216.8" stroke="#141414" stroke-width="1.6" />
<path d="M563.5 220.5 L560 221" stroke="#141414" stroke-width="1" fill="none" />
<path d="M551 50.5 C568 52 584 48 596.5 40.7 C612 53 640 55 656.7 41 C662 34 668 30 675 27.5 C682 25 688 24.5 692.7 25" stroke="#141414" stroke-width="1.2" fill="none" />
<rect x="486.3" y="69.7" width="11.9" height="14.5" stroke="#141414" stroke-width="1.25" fill="none" />
<text x="492.2" y="82.3" font-size="14.2" font-style="normal" font-weight="normal" text-anchor="middle" fill="#141414" stroke="#141414" stroke-width="0.15" >$</text>
<rect x="475.5" y="105.6" width="26.5" height="14.5" stroke="#141414" stroke-width="1.25" fill="none" />
<text x="478.5" y="116.9" font-size="12.5" font-style="italic" font-weight="normal" text-anchor="start" fill="#141414" stroke="#141414" stroke-width="0.18" textLength="20.5" lengthAdjust="spacingAndGlyphs" >GFI</text>
<rect x="485.8" y="129.5" width="19.3" height="14.5" stroke="#141414" stroke-width="1.25" fill="none" />
<text x="490.6" y="142.1" font-size="14.2" font-style="normal" font-weight="normal" text-anchor="middle" fill="#141414" stroke="#141414" stroke-width="0.15" >$</text>
<line x1="495.45000000000005" y1="129.5" x2="495.45000000000005" y2="144" stroke="#141414" stroke-width="1.1" />
<text x="500.3" y="142.1" font-size="14.2" font-style="normal" font-weight="normal" text-anchor="middle" fill="#141414" stroke="#141414" stroke-width="0.15" >$</text>
<rect x="518.2" y="106.9" width="21.4" height="15.4" stroke="#141414" stroke-width="1.25" fill="none" />
<text x="521.4" y="118.9" font-size="12.5" font-style="italic" font-weight="normal" text-anchor="start" fill="#141414" stroke="#141414" stroke-width="0.18" textLength="15.0" lengthAdjust="spacingAndGlyphs" >MR</text>
<rect x="558.4" y="94.5" width="22.2" height="14.8" stroke="#141414" stroke-width="1.25" fill="none" />
<text x="561.6" y="106.0" font-size="12.5" font-style="italic" font-weight="normal" text-anchor="start" fill="#141414" stroke="#141414" stroke-width="0.18" textLength="15.8" lengthAdjust="spacingAndGlyphs" >MR</text>
<circle cx="668.8" cy="85.7" r="4.5" stroke="#141414" stroke-width="1.2" fill="none"/>
<circle cx="668.8" cy="85.7" r="2.3" stroke="#141414" stroke-width="0" fill="#111"/>
<rect x="650.8" y="87.1" width="35.1" height="15.4" stroke="#141414" stroke-width="1.25" fill="none" />
<text x="653.7" y="98.3" font-size="8.6" font-style="normal" font-weight="normal" text-anchor="start" fill="#141414" stroke="#141414" stroke-width="0.18" textLength="28.0" lengthAdjust="spacingAndGlyphs" >SM/CO</text>
<circle cx="617.5" cy="105" r="4.5" stroke="#141414" stroke-width="1.2" fill="none"/>
<circle cx="617.5" cy="105" r="2.3" stroke="#141414" stroke-width="0" fill="#111"/>
<rect x="599.2" y="108.5" width="35.4" height="14.8" stroke="#141414" stroke-width="1.25" fill="none" />
<text x="602.1" y="119.1" font-size="8.6" font-style="normal" font-weight="normal" text-anchor="start" fill="#141414" stroke="#141414" stroke-width="0.18" textLength="28.3" lengthAdjust="spacingAndGlyphs" >SM/CO</text>
<circle cx="675.1" cy="127.3" r="4.5" stroke="#141414" stroke-width="1.2" fill="none"/>
<circle cx="675.1" cy="127.3" r="2.3" stroke="#141414" stroke-width="0" fill="#111"/>
<rect x="657.6" y="130.3" width="33.4" height="14.9" stroke="#141414" stroke-width="1.25" fill="none" />
<text x="660.5" y="141.0" font-size="8.6" font-style="normal" font-weight="normal" text-anchor="start" fill="#141414" stroke="#141414" stroke-width="0.18" textLength="26.3" lengthAdjust="spacingAndGlyphs" >SM/CO</text>
<circle cx="674.7" cy="172.1" r="4.5" stroke="#141414" stroke-width="1.2" fill="none"/>
<circle cx="674.7" cy="172.1" r="2.3" stroke="#141414" stroke-width="0" fill="#111"/>
<rect x="655.7" y="175.4" width="35.5" height="14.5" stroke="#141414" stroke-width="1.25" fill="none" />
<text x="658.6" y="185.7" font-size="8.6" font-style="normal" font-weight="normal" text-anchor="start" fill="#141414" stroke="#141414" stroke-width="0.18" textLength="28.4" lengthAdjust="spacingAndGlyphs" >SM/CO</text>
<circle cx="699.4" cy="39.7" r="4.5" stroke="#141414" stroke-width="1.2" fill="none"/>
<circle cx="699.4" cy="39.7" r="2.3" stroke="#141414" stroke-width="0" fill="#111"/>
<rect x="681.5" y="43.6" width="35.1" height="13.7" stroke="#141414" stroke-width="1.25" fill="none" />
<text x="684.4" y="53.3" font-size="8.6" font-style="normal" font-weight="normal" text-anchor="start" fill="#141414" stroke="#141414" stroke-width="0.18" textLength="28.0" lengthAdjust="spacingAndGlyphs" >SM/CO</text>
<rect x="635.9" y="111.5" width="14.9" height="18.3" stroke="#141414" stroke-width="1.1" fill="none" />
<line x1="635.9" y1="120.6" x2="650.8" y2="120.6" stroke="#141414" stroke-width="1.1" />
<text x="643.3" y="116.3" font-size="13" fill="#141414" text-anchor="middle" transform="rotate(-90 643.3 116.3) translate(0 4.4)">$</text>
<text x="643.3" y="125.5" font-size="13" fill="#141414" text-anchor="middle" transform="rotate(-90 643.3 125.5) translate(0 4.4)">$</text>
<rect x="745.7" y="52.6" width="14.5" height="22.6" stroke="#141414" stroke-width="1.1" fill="none" />
<line x1="745.7" y1="62.9" x2="760.2" y2="62.9" stroke="#141414" stroke-width="1.1" />
<text x="753" y="58" font-size="13" fill="#141414" text-anchor="middle" transform="rotate(-90 753 58) translate(0 4.4)">$</text>
<text x="753" y="69" font-size="13" fill="#141414" text-anchor="middle" transform="rotate(-90 753 69) translate(0 4.4)">$</text>
<rect x="692.7" y="15.7" width="11.3" height="15.1" stroke="#141414" stroke-width="1.1" fill="none" />
<rect x="704" y="15.7" width="11.8" height="15.1" stroke="#141414" stroke-width="1.1" fill="none" />
<rect x="697" y="21" width="9" height="9.8" stroke="#141414" stroke-width="1.1" fill="none" />
<rect x="706" y="21" width="9.8" height="12" stroke="#141414" stroke-width="1.1" fill="none" />
<text x="695" y="26" font-size="9" font-style="normal" font-weight="normal" text-anchor="start" fill="#141414" stroke="#141414" stroke-width="0.18" >$</text>
<text x="706.5" y="26" font-size="9" font-style="normal" font-weight="normal" text-anchor="start" fill="#141414" stroke="#141414" stroke-width="0.18" >$</text>
<text x="698.5" y="30" font-size="8" font-style="normal" font-weight="normal" text-anchor="start" fill="#141414" stroke="#141414" stroke-width="0.18" >$</text>
<text x="708" y="31" font-size="8" font-style="normal" font-weight="normal" text-anchor="start" fill="#141414" stroke="#141414" stroke-width="0.18" >$</text>
<line x1="704.5" y1="22" x2="704.5" y2="33" stroke="#111" stroke-width="2" />
<rect x="697" y="130.7" width="10.7" height="15.3" stroke="#141414" stroke-width="1.25" fill="none" />
<text x="702.4" y="144.0" font-size="15.0" font-style="normal" font-weight="normal" text-anchor="middle" fill="#141414" stroke="#141414" stroke-width="0.15" >$</text>
<rect x="701.2" y="137.4" width="9.4" height="10.4" stroke="#141414" stroke-width="1.1" fill="none" />
<text x="703" y="146.5" font-size="8.5" font-style="normal" font-weight="normal" text-anchor="start" fill="#141414" stroke="#141414" stroke-width="0.18" >$</text>
<path d="M693.5 146.9 H715 M693.5 150.3 H715" stroke="#141414" stroke-width="1.2" fill="none" />
<rect x="694.4" y="150.6" width="18.8" height="14.3" stroke="#141414" stroke-width="1.25" fill="none" />
<text x="699.1" y="163.0" font-size="14.0" font-style="normal" font-weight="normal" text-anchor="middle" fill="#141414" stroke="#141414" stroke-width="0.15" >$</text>
<line x1="703.8" y1="150.6" x2="703.8" y2="164.9" stroke="#141414" stroke-width="1.1" />
<text x="708.5" y="163.0" font-size="14.0" font-style="normal" font-weight="normal" text-anchor="middle" fill="#141414" stroke="#141414" stroke-width="0.15" >$</text>
<rect x="596.7" y="288.5" width="11.6" height="15.0" stroke="#141414" stroke-width="1.25" fill="none" />
<text x="602.5" y="301.6" font-size="14.7" font-style="normal" font-weight="normal" text-anchor="middle" fill="#141414" stroke="#141414" stroke-width="0.15" >$</text>
<rect x="707.6" y="288.5" width="13.0" height="15.3" stroke="#141414" stroke-width="1.25" fill="none" />
<text x="714.1" y="301.8" font-size="15.0" font-style="normal" font-weight="normal" text-anchor="middle" fill="#141414" stroke="#141414" stroke-width="0.15" >$</text>
<rect x="774.7" y="47.9" width="22.3" height="14.0" stroke="#141414" stroke-width="1.25" fill="none" />
<text x="777.9" y="58.8" font-size="12" font-style="italic" font-weight="normal" text-anchor="start" fill="#141414" stroke="#141414" stroke-width="0.18" textLength="15.9" lengthAdjust="spacingAndGlyphs" >MR</text>
<rect x="800.4" y="47.9" width="29.6" height="14.0" stroke="#141414" stroke-width="1.25" fill="none" />
<text x="803.6" y="58.8" font-size="12.5" font-style="italic" font-weight="normal" text-anchor="start" fill="#141414" stroke="#141414" stroke-width="0.18" textLength="23.2" lengthAdjust="spacingAndGlyphs" >GFI</text>
<rect x="777.3" y="100.2" width="22.5" height="15.1" stroke="#141414" stroke-width="1.25" fill="none" />
<text x="780.5" y="112.0" font-size="12.5" font-style="italic" font-weight="normal" text-anchor="start" fill="#141414" stroke="#141414" stroke-width="0.18" textLength="16.1" lengthAdjust="spacingAndGlyphs" >MR</text>
<rect x="546.6" y="355.8" width="22.8" height="15.2" stroke="#141414" stroke-width="1.25" fill="none" />
<text x="550.0" y="367.7" font-size="12.5" font-style="italic" font-weight="normal" text-anchor="start" fill="#141414" stroke="#141414" stroke-width="0.18" textLength="16.0" lengthAdjust="spacingAndGlyphs" >MR</text>
<rect x="741.4" y="355.3" width="22.6" height="15.4" stroke="#141414" stroke-width="1.25" fill="none" />
<text x="744.8" y="367.3" font-size="12.5" font-style="italic" font-weight="normal" text-anchor="start" fill="#141414" stroke="#141414" stroke-width="0.18" textLength="15.8" lengthAdjust="spacingAndGlyphs" >MR</text>
<rect x="777.1" y="341.5" width="34.1" height="33.4" stroke="#141414" stroke-width="1" fill="none" />
<rect x="781.7" y="352.5" width="24.9" height="12.7" stroke="#141414" stroke-width="1.3" fill="none" />
<text x="784.7" y="362.4" font-size="10.5" font-style="italic" font-weight="normal" text-anchor="start" fill="#141414" stroke="#141414" stroke-width="0.18" textLength="18.9" lengthAdjust="spacingAndGlyphs" >A/C</text>
<rect x="465.9" y="399.6" width="8.6" height="8.4" stroke="#141414" stroke-width="1.25" fill="none" />
<line x1="465.9" y1="399.6" x2="474.5" y2="408" stroke="#141414" stroke-width="1.15" />
<line x1="465.9" y1="408" x2="474.5" y2="399.6" stroke="#141414" stroke-width="1.15" />
<rect x="603.4" y="399.6" width="8.6" height="8.4" stroke="#141414" stroke-width="1.25" fill="none" />
<line x1="603.4" y1="399.6" x2="612.0" y2="408" stroke="#141414" stroke-width="1.15" />
<line x1="603.4" y1="408" x2="612.0" y2="399.6" stroke="#141414" stroke-width="1.15" />
<rect x="672.5" y="399.6" width="8.6" height="8.4" stroke="#141414" stroke-width="1.25" fill="none" />
<line x1="672.5" y1="399.6" x2="681.1" y2="408" stroke="#141414" stroke-width="1.15" />
<line x1="672.5" y1="408" x2="681.1" y2="399.6" stroke="#141414" stroke-width="1.15" />
<rect x="810.6" y="399.6" width="8.6" height="8.4" stroke="#141414" stroke-width="1.25" fill="none" />
<line x1="810.6" y1="399.6" x2="819.2" y2="408" stroke="#141414" stroke-width="1.15" />
<line x1="810.6" y1="408" x2="819.2" y2="399.6" stroke="#141414" stroke-width="1.15" />
<rect x="531.1" y="457.1" width="172.7" height="13.7" stroke="#141414" stroke-width="1.1" fill="none" />
<rect x="492.6" y="471.7" width="234.8" height="13.3" stroke="#141414" stroke-width="1.1" fill="none" />
<text x="533.5" y="467" font-size="10" font-style="italic" font-weight="normal" text-anchor="start" fill="#141414" stroke="#141414" stroke-width="0.18" textLength="18.8" lengthAdjust="spacingAndGlyphs" >2ND</text>
<text x="558.6" y="467" font-size="10" font-style="italic" font-weight="normal" text-anchor="start" fill="#141414" stroke="#141414" stroke-width="0.18" textLength="29.4" lengthAdjust="spacingAndGlyphs" >FLOOR</text>
<text x="594.7" y="467" font-size="10" font-style="italic" font-weight="normal" text-anchor="start" fill="#141414" stroke="#141414" stroke-width="0.18" textLength="58.5" lengthAdjust="spacingAndGlyphs" >ELECTRICAL</text>
<text x="660.8" y="467" font-size="10" font-style="italic" font-weight="normal" text-anchor="start" fill="#141414" stroke="#141414" stroke-width="0.18" textLength="40.0" lengthAdjust="spacingAndGlyphs" >LAYOUT</text>
<line x1="533" y1="468.5" x2="701.5" y2="468.5" stroke="#141414" stroke-width="0.9" />
<text x="495.6" y="481.8" font-size="10.4" font-style="italic" font-weight="normal" text-anchor="start" fill="#141414" stroke="#141414" stroke-width="0.18" textLength="17.3" lengthAdjust="spacingAndGlyphs" >ALL</text>
<text x="520.8" y="481.8" font-size="10.4" font-style="italic" font-weight="normal" text-anchor="start" fill="#141414" stroke="#141414" stroke-width="0.18" textLength="58.7" lengthAdjust="spacingAndGlyphs" >ELECTRICAL</text>
<text x="588" y="481.8" font-size="10.4" font-style="italic" font-weight="normal" text-anchor="start" fill="#141414" stroke="#141414" stroke-width="0.18" textLength="19.1" lengthAdjust="spacingAndGlyphs" >AND</text>
<text x="614.7" y="481.8" font-size="10.4" font-style="italic" font-weight="normal" text-anchor="start" fill="#141414" stroke="#141414" stroke-width="0.18" textLength="46.1" lengthAdjust="spacingAndGlyphs" >PLUMBING</text>
<text x="667.4" y="481.8" font-size="10.4" font-style="italic" font-weight="normal" text-anchor="start" fill="#141414" stroke="#141414" stroke-width="0.18" textLength="11.5" lengthAdjust="spacingAndGlyphs" >BY</text>
<text x="685.6" y="481.8" font-size="10.4" font-style="italic" font-weight="normal" text-anchor="start" fill="#141414" stroke="#141414" stroke-width="0.18" textLength="37.3" lengthAdjust="spacingAndGlyphs" >OTHERS</text>
<line x1="0" y1="568.6" x2="825" y2="568.6" stroke="#8a8a8a" stroke-width="1.1" />
<rect x="302.5" y="563.9" width="220" height="4.3" rx="2.15" fill="#000"/>
</svg>
</body></html>
